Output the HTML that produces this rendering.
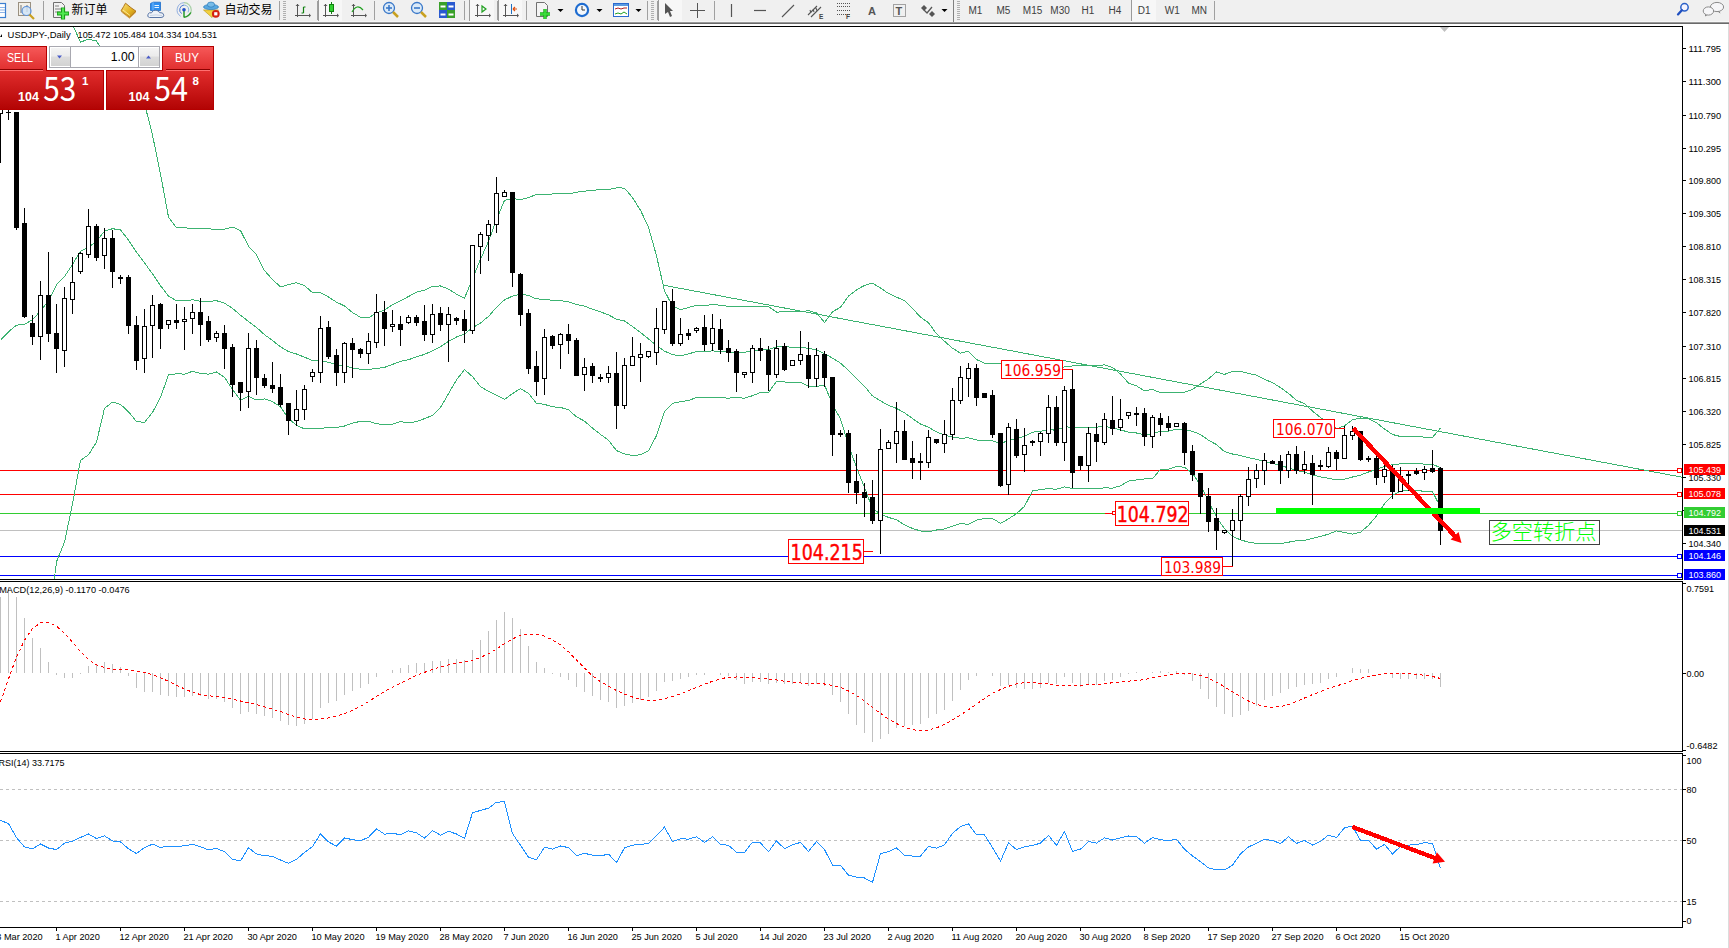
<!DOCTYPE html>
<html><head><meta charset="utf-8"><title>USDJPY-,Daily</title>
<style>
html,body{margin:0;padding:0;background:#fff;width:1729px;height:948px;overflow:hidden}
svg{display:block}
</style></head><body>
<svg width="1729" height="948" viewBox="0 0 1729 948">
<rect x="0" y="0" width="1729" height="948" fill="#ffffff"/>
<rect x="0" y="0" width="1729" height="22" fill="#f0f0f0"/>
<rect x="0" y="21" width="1729" height="1" fill="#f7f7f7"/>
<rect x="0" y="22" width="1729" height="1" fill="#9a9a9a"/>
<rect x="0" y="23" width="1729" height="1" fill="#6a6a6a"/>
<g shape-rendering="crispEdges">
<rect x="0" y="470" width="1677" height="1" fill="#ff0000"/>
<rect x="0" y="494" width="1677" height="1" fill="#ff0000"/>
<rect x="0" y="513" width="1677" height="1" fill="#32cd32"/>
<rect x="0" y="556" width="1677" height="1" fill="#0000ff"/>
<rect x="0" y="575" width="1677" height="1" fill="#0000ff"/>
<rect x="0" y="530" width="1682" height="1" fill="#c0c0c0"/>
</g>
<g clip-path="url(#cmain)">
<polyline points="0.5,673.2 8.5,678.6 16.5,674.6 24.5,673.7 32.5,666.1 40.5,650.1 48.5,624.9 56.5,561.8 64.5,542.0 72.5,504.1 80.5,460.3 88.5,454.8 96.5,442.1 104.5,408.3 112.5,402.1 120.5,404.4 128.5,411.8 136.5,421.5 144.5,422.4 152.5,412.4 160.5,397.3 168.5,375.0 176.5,373.8 184.5,374.1 192.5,371.3 200.5,373.4 208.5,374.2 216.5,371.9 224.5,377.3 232.5,389.5 240.5,400.1 248.5,396.5 256.5,400.0 264.5,398.9 272.5,401.6 280.5,406.8 288.5,418.4 296.5,425.4 304.5,428.9 312.5,428.3 320.5,428.3 328.5,427.6 336.5,427.5 344.5,426.0 352.5,423.2 360.5,421.3 368.5,421.2 376.5,423.7 384.5,424.8 392.5,424.3 400.5,421.6 408.5,422.9 416.5,421.7 424.5,418.6 432.5,415.4 440.5,407.5 448.5,393.7 456.5,379.8 464.5,369.7 472.5,376.6 480.5,386.7 488.5,391.4 496.5,395.3 504.5,399.4 512.5,393.6 520.5,388.6 528.5,393.3 536.5,403.3 544.5,404.4 552.5,406.8 560.5,407.4 568.5,409.8 576.5,416.8 584.5,421.1 592.5,428.1 600.5,434.4 608.5,440.3 616.5,450.6 624.5,453.9 632.5,455.5 640.5,454.8 648.5,450.7 656.5,435.6 664.5,411.5 672.5,403.3 680.5,401.7 688.5,400.5 696.5,397.5 704.5,397.5 712.5,397.7 720.5,397.8 728.5,398.1 736.5,397.6 744.5,398.2 752.5,395.7 760.5,392.5 768.5,392.6 776.5,381.3 784.5,382.0 792.5,382.4 800.5,382.4 808.5,386.3 816.5,386.6 824.5,384.8 832.5,404.5 840.5,418.9 848.5,444.9 856.5,467.5 864.5,487.3 872.5,508.8 880.5,513.9 888.5,517.4 896.5,519.8 904.5,524.9 912.5,528.4 920.5,531.0 928.5,531.7 936.5,530.0 944.5,529.0 952.5,526.1 960.5,523.4 968.5,524.4 976.5,520.2 984.5,518.5 992.5,518.5 1000.5,523.3 1008.5,518.9 1016.5,513.6 1024.5,506.3 1032.5,490.9 1040.5,489.6 1048.5,488.6 1056.5,489.3 1064.5,486.8 1072.5,488.7 1080.5,489.0 1088.5,488.8 1096.5,488.6 1104.5,487.9 1112.5,488.1 1120.5,485.8 1128.5,481.1 1136.5,480.0 1144.5,478.9 1152.5,478.8 1160.5,469.3 1168.5,469.3 1176.5,466.3 1184.5,467.3 1192.5,473.4 1200.5,485.0 1208.5,501.5 1216.5,517.2 1224.5,528.8 1232.5,536.4 1240.5,539.9 1248.5,542.1 1256.5,543.4 1264.5,543.4 1272.5,543.7 1280.5,543.7 1288.5,542.2 1296.5,540.7 1304.5,540.4 1312.5,538.4 1320.5,536.3 1328.5,534.2 1336.5,530.9 1344.5,532.4 1352.5,534.2 1360.5,532.2 1368.5,525.4 1376.5,516.0 1384.5,503.7 1392.5,495.2 1400.5,491.2 1408.5,490.4 1416.5,490.7 1424.5,491.2 1432.5,491.7 1440.5,507.1" fill="none" stroke="#3cb371" stroke-width="1" shape-rendering="crispEdges" />
</g>
<g clip-path="url(#cmain)">
<polyline points="0.5,340.3 8.5,331.8 16.5,325.2 24.5,324.3 32.5,319.8 40.5,310.9 48.5,300.9 56.5,284.7 64.5,276.6 72.5,264.4 80.5,251.1 88.5,247.1 96.5,241.5 104.5,231.1 112.5,228.7 120.5,229.9 128.5,240.1 136.5,252.3 144.5,262.9 152.5,273.8 160.5,285.7 168.5,296.1 176.5,300.8 184.5,301.0 192.5,299.8 200.5,301.2 208.5,301.5 216.5,300.7 224.5,303.2 232.5,308.3 240.5,315.3 248.5,321.4 256.5,327.4 264.5,334.7 272.5,340.5 280.5,346.8 288.5,351.6 296.5,354.0 304.5,357.2 312.5,360.5 320.5,360.5 328.5,362.3 336.5,364.8 344.5,366.0 352.5,367.9 360.5,369.3 368.5,369.5 376.5,368.4 384.5,367.4 392.5,364.4 400.5,361.3 408.5,359.7 416.5,356.9 424.5,354.4 432.5,350.7 440.5,346.7 448.5,341.4 456.5,337.0 464.5,334.0 472.5,327.7 480.5,323.0 488.5,316.4 496.5,307.4 504.5,299.9 512.5,296.1 520.5,294.1 528.5,295.5 536.5,298.9 544.5,299.3 552.5,300.4 560.5,300.6 568.5,301.8 576.5,304.5 584.5,306.2 592.5,309.2 600.5,311.9 608.5,314.9 616.5,319.2 624.5,321.0 632.5,326.5 640.5,332.5 648.5,338.9 656.5,345.7 664.5,351.1 672.5,354.7 680.5,355.7 688.5,354.0 696.5,351.4 704.5,351.7 712.5,350.9 720.5,351.6 728.5,352.2 736.5,352.0 744.5,352.2 752.5,350.9 760.5,349.5 768.5,349.5 776.5,346.7 784.5,346.9 792.5,347.1 800.5,347.1 808.5,348.5 816.5,349.8 824.5,353.6 832.5,358.1 840.5,363.1 848.5,370.5 856.5,378.7 864.5,386.3 872.5,395.9 880.5,400.9 888.5,405.4 896.5,408.4 904.5,412.8 912.5,418.5 920.5,424.1 928.5,427.2 936.5,431.9 944.5,435.1 952.5,437.1 960.5,438.3 968.5,437.8 976.5,439.9 984.5,440.9 992.5,440.9 1000.5,443.4 1008.5,440.6 1016.5,438.8 1024.5,436.2 1032.5,432.2 1040.5,431.4 1048.5,429.7 1056.5,430.2 1064.5,426.8 1072.5,427.3 1080.5,427.4 1088.5,427.2 1096.5,427.1 1104.5,426.4 1112.5,427.8 1120.5,429.9 1128.5,432.1 1136.5,433.0 1144.5,434.9 1152.5,434.1 1160.5,431.0 1168.5,431.0 1176.5,429.4 1184.5,429.8 1192.5,431.4 1200.5,434.5 1208.5,440.2 1216.5,444.6 1224.5,451.6 1232.5,454.0 1240.5,455.5 1248.5,457.8 1256.5,459.3 1264.5,461.4 1272.5,463.1 1280.5,465.7 1288.5,467.8 1296.5,470.6 1304.5,472.0 1312.5,474.8 1320.5,476.9 1328.5,478.2 1336.5,479.9 1344.5,479.1 1352.5,477.0 1360.5,475.1 1368.5,472.0 1376.5,469.4 1384.5,466.3 1392.5,464.8 1400.5,463.8 1408.5,463.6 1416.5,463.7 1424.5,464.1 1432.5,464.5 1440.5,467.5" fill="none" stroke="#3cb371" stroke-width="1" shape-rendering="crispEdges" />
</g>
<g clip-path="url(#cmain)">
<polyline points="0.5,7.4 8.5,-14.9 16.5,-24.2 24.5,-25.1 32.5,-26.6 40.5,-28.3 48.5,-23.0 56.5,7.6 64.5,11.2 72.5,24.8 80.5,42.0 88.5,39.3 96.5,41.0 104.5,54.0 112.5,55.2 120.5,55.4 128.5,68.4 136.5,83.2 144.5,103.4 152.5,135.2 160.5,174.0 168.5,217.1 176.5,227.9 184.5,227.9 192.5,228.3 200.5,229.0 208.5,228.7 216.5,229.6 224.5,229.2 232.5,227.1 240.5,230.5 248.5,246.2 256.5,254.8 264.5,270.6 272.5,279.5 280.5,286.9 288.5,284.7 296.5,282.7 304.5,285.5 312.5,292.7 320.5,292.7 328.5,297.0 336.5,302.1 344.5,306.0 352.5,312.5 360.5,317.3 368.5,317.7 376.5,313.1 384.5,310.0 392.5,304.6 400.5,300.9 408.5,296.5 416.5,292.2 424.5,290.2 432.5,286.1 440.5,286.0 448.5,289.1 456.5,294.1 464.5,298.3 472.5,278.7 480.5,259.3 488.5,241.3 496.5,219.6 504.5,200.4 512.5,198.5 520.5,199.6 528.5,197.7 536.5,194.4 544.5,194.3 552.5,194.0 560.5,193.9 568.5,193.9 576.5,192.2 584.5,191.2 592.5,190.4 600.5,189.5 608.5,189.6 616.5,187.8 624.5,188.1 632.5,197.6 640.5,210.3 648.5,227.2 656.5,255.8 664.5,290.8 672.5,306.1 680.5,309.6 688.5,307.5 696.5,305.3 704.5,306.0 712.5,304.1 720.5,305.4 728.5,306.3 736.5,306.4 744.5,306.3 752.5,306.2 760.5,306.5 768.5,306.5 776.5,312.1 784.5,311.8 792.5,311.8 800.5,311.8 808.5,310.6 816.5,313.0 824.5,322.4 832.5,311.7 840.5,307.4 848.5,296.1 856.5,289.9 864.5,285.4 872.5,283.1 880.5,288.0 888.5,293.5 896.5,297.1 904.5,300.7 912.5,308.5 920.5,317.1 928.5,322.7 936.5,333.8 944.5,341.3 952.5,348.2 960.5,353.2 968.5,351.2 976.5,359.6 984.5,363.2 992.5,363.2 1000.5,363.4 1008.5,362.4 1016.5,363.9 1024.5,366.1 1032.5,373.5 1040.5,373.3 1048.5,370.8 1056.5,371.1 1064.5,366.8 1072.5,365.9 1080.5,365.8 1088.5,365.7 1096.5,365.7 1104.5,364.9 1112.5,367.5 1120.5,374.0 1128.5,383.1 1136.5,385.9 1144.5,390.9 1152.5,389.4 1160.5,392.7 1168.5,392.7 1176.5,392.6 1184.5,392.2 1192.5,389.4 1200.5,384.0 1208.5,378.9 1216.5,371.9 1224.5,374.4 1232.5,371.5 1240.5,371.2 1248.5,373.5 1256.5,375.2 1264.5,379.4 1272.5,382.6 1280.5,387.6 1288.5,393.4 1296.5,400.4 1304.5,403.6 1312.5,411.1 1320.5,417.5 1328.5,422.2 1336.5,428.9 1344.5,425.8 1352.5,419.7 1360.5,418.0 1368.5,418.6 1376.5,422.8 1384.5,429.0 1392.5,434.5 1400.5,436.5 1408.5,436.7 1416.5,436.7 1424.5,437.1 1432.5,437.3 1440.5,428.0" fill="none" stroke="#3cb371" stroke-width="1" shape-rendering="crispEdges" />
</g>
<line x1="663.5" y1="285.2" x2="1682" y2="477.2" stroke="#3cb371" stroke-width="1" shape-rendering="crispEdges"/>
<g shape-rendering="crispEdges" clip-path="url(#cmain)">
<rect x="0" y="90" width="1" height="73" fill="#000"/>
<rect x="-2" y="90" width="5" height="24" fill="#000"/>
<rect x="-1" y="91" width="3" height="22" fill="#fff"/>
<rect x="8" y="100" width="1" height="20" fill="#000"/>
<rect x="6" y="112" width="5" height="1" fill="#000"/>
<rect x="16" y="112" width="1" height="118" fill="#000"/>
<rect x="14" y="112" width="5" height="116" fill="#000"/>
<rect x="24" y="208" width="1" height="110" fill="#000"/>
<rect x="22" y="223" width="5" height="94" fill="#000"/>
<rect x="32" y="315" width="1" height="30" fill="#000"/>
<rect x="30" y="323" width="5" height="14" fill="#000"/>
<rect x="40" y="281" width="1" height="79" fill="#000"/>
<rect x="38" y="295" width="5" height="42" fill="#000"/>
<rect x="39" y="296" width="3" height="40" fill="#fff"/>
<rect x="48" y="252" width="1" height="90" fill="#000"/>
<rect x="46" y="295" width="5" height="39" fill="#000"/>
<rect x="56" y="304" width="1" height="69" fill="#000"/>
<rect x="54" y="333" width="5" height="16" fill="#000"/>
<rect x="64" y="287" width="1" height="80" fill="#000"/>
<rect x="62" y="298" width="5" height="53" fill="#000"/>
<rect x="63" y="299" width="3" height="51" fill="#fff"/>
<rect x="72" y="257" width="1" height="57" fill="#000"/>
<rect x="70" y="282" width="5" height="18" fill="#000"/>
<rect x="71" y="283" width="3" height="16" fill="#fff"/>
<rect x="80" y="252" width="1" height="22" fill="#000"/>
<rect x="78" y="253" width="5" height="19" fill="#000"/>
<rect x="79" y="254" width="3" height="17" fill="#fff"/>
<rect x="88" y="209" width="1" height="49" fill="#000"/>
<rect x="86" y="226" width="5" height="29" fill="#000"/>
<rect x="87" y="227" width="3" height="27" fill="#fff"/>
<rect x="96" y="224" width="1" height="37" fill="#000"/>
<rect x="94" y="226" width="5" height="32" fill="#000"/>
<rect x="104" y="228" width="1" height="41" fill="#000"/>
<rect x="102" y="238" width="5" height="18" fill="#000"/>
<rect x="103" y="239" width="3" height="16" fill="#fff"/>
<rect x="112" y="230" width="1" height="58" fill="#000"/>
<rect x="110" y="238" width="5" height="34" fill="#000"/>
<rect x="120" y="275" width="1" height="9" fill="#000"/>
<rect x="118" y="277" width="5" height="2" fill="#000"/>
<rect x="128" y="275" width="1" height="59" fill="#000"/>
<rect x="126" y="277" width="5" height="49" fill="#000"/>
<rect x="136" y="316" width="1" height="54" fill="#000"/>
<rect x="134" y="325" width="5" height="36" fill="#000"/>
<rect x="144" y="309" width="1" height="64" fill="#000"/>
<rect x="142" y="326" width="5" height="33" fill="#000"/>
<rect x="143" y="327" width="3" height="31" fill="#fff"/>
<rect x="152" y="295" width="1" height="63" fill="#000"/>
<rect x="150" y="305" width="5" height="21" fill="#000"/>
<rect x="151" y="306" width="3" height="19" fill="#fff"/>
<rect x="160" y="303" width="1" height="46" fill="#000"/>
<rect x="158" y="304" width="5" height="25" fill="#000"/>
<rect x="168" y="320" width="1" height="9" fill="#000"/>
<rect x="166" y="320" width="5" height="5" fill="#000"/>
<rect x="167" y="321" width="3" height="3" fill="#fff"/>
<rect x="176" y="304" width="1" height="25" fill="#000"/>
<rect x="174" y="320" width="5" height="3" fill="#000"/>
<rect x="184" y="307" width="1" height="43" fill="#000"/>
<rect x="182" y="319" width="5" height="3" fill="#000"/>
<rect x="183" y="320" width="3" height="1" fill="#fff"/>
<rect x="192" y="304" width="1" height="30" fill="#000"/>
<rect x="190" y="312" width="5" height="7" fill="#000"/>
<rect x="191" y="313" width="3" height="5" fill="#fff"/>
<rect x="200" y="298" width="1" height="48" fill="#000"/>
<rect x="198" y="312" width="5" height="13" fill="#000"/>
<rect x="208" y="316" width="1" height="26" fill="#000"/>
<rect x="206" y="321" width="5" height="19" fill="#000"/>
<rect x="216" y="331" width="1" height="11" fill="#000"/>
<rect x="214" y="333" width="5" height="5" fill="#000"/>
<rect x="215" y="334" width="3" height="3" fill="#fff"/>
<rect x="224" y="325" width="1" height="44" fill="#000"/>
<rect x="222" y="333" width="5" height="16" fill="#000"/>
<rect x="232" y="344" width="1" height="53" fill="#000"/>
<rect x="230" y="347" width="5" height="38" fill="#000"/>
<rect x="240" y="382" width="1" height="29" fill="#000"/>
<rect x="238" y="382" width="5" height="11" fill="#000"/>
<rect x="248" y="333" width="1" height="75" fill="#000"/>
<rect x="246" y="348" width="5" height="44" fill="#000"/>
<rect x="247" y="349" width="3" height="42" fill="#fff"/>
<rect x="256" y="340" width="1" height="55" fill="#000"/>
<rect x="254" y="348" width="5" height="30" fill="#000"/>
<rect x="264" y="374" width="1" height="14" fill="#000"/>
<rect x="262" y="378" width="5" height="8" fill="#000"/>
<rect x="272" y="362" width="1" height="31" fill="#000"/>
<rect x="270" y="385" width="5" height="4" fill="#000"/>
<rect x="280" y="374" width="1" height="33" fill="#000"/>
<rect x="278" y="387" width="5" height="18" fill="#000"/>
<rect x="288" y="403" width="1" height="32" fill="#000"/>
<rect x="286" y="403" width="5" height="18" fill="#000"/>
<rect x="296" y="390" width="1" height="36" fill="#000"/>
<rect x="294" y="409" width="5" height="12" fill="#000"/>
<rect x="295" y="410" width="3" height="10" fill="#fff"/>
<rect x="304" y="385" width="1" height="35" fill="#000"/>
<rect x="302" y="389" width="5" height="21" fill="#000"/>
<rect x="303" y="390" width="3" height="19" fill="#fff"/>
<rect x="312" y="369" width="1" height="13" fill="#000"/>
<rect x="310" y="372" width="5" height="5" fill="#000"/>
<rect x="311" y="373" width="3" height="3" fill="#fff"/>
<rect x="320" y="316" width="1" height="67" fill="#000"/>
<rect x="318" y="328" width="5" height="45" fill="#000"/>
<rect x="319" y="329" width="3" height="43" fill="#fff"/>
<rect x="328" y="321" width="1" height="38" fill="#000"/>
<rect x="326" y="327" width="5" height="30" fill="#000"/>
<rect x="336" y="349" width="1" height="37" fill="#000"/>
<rect x="334" y="355" width="5" height="18" fill="#000"/>
<rect x="344" y="342" width="1" height="41" fill="#000"/>
<rect x="342" y="343" width="5" height="30" fill="#000"/>
<rect x="343" y="344" width="3" height="28" fill="#fff"/>
<rect x="352" y="338" width="1" height="40" fill="#000"/>
<rect x="350" y="343" width="5" height="7" fill="#000"/>
<rect x="360" y="348" width="1" height="10" fill="#000"/>
<rect x="358" y="349" width="5" height="5" fill="#000"/>
<rect x="368" y="333" width="1" height="31" fill="#000"/>
<rect x="366" y="341" width="5" height="13" fill="#000"/>
<rect x="367" y="342" width="3" height="11" fill="#fff"/>
<rect x="376" y="294" width="1" height="54" fill="#000"/>
<rect x="374" y="312" width="5" height="31" fill="#000"/>
<rect x="375" y="313" width="3" height="29" fill="#fff"/>
<rect x="384" y="301" width="1" height="45" fill="#000"/>
<rect x="382" y="312" width="5" height="17" fill="#000"/>
<rect x="392" y="310" width="1" height="22" fill="#000"/>
<rect x="390" y="324" width="5" height="3" fill="#000"/>
<rect x="391" y="325" width="3" height="1" fill="#fff"/>
<rect x="400" y="316" width="1" height="30" fill="#000"/>
<rect x="398" y="324" width="5" height="6" fill="#000"/>
<rect x="408" y="315" width="1" height="9" fill="#000"/>
<rect x="406" y="317" width="5" height="6" fill="#000"/>
<rect x="407" y="318" width="3" height="4" fill="#fff"/>
<rect x="416" y="315" width="1" height="11" fill="#000"/>
<rect x="414" y="317" width="5" height="6" fill="#000"/>
<rect x="424" y="305" width="1" height="36" fill="#000"/>
<rect x="422" y="321" width="5" height="14" fill="#000"/>
<rect x="432" y="304" width="1" height="39" fill="#000"/>
<rect x="430" y="314" width="5" height="21" fill="#000"/>
<rect x="431" y="315" width="3" height="19" fill="#fff"/>
<rect x="440" y="307" width="1" height="24" fill="#000"/>
<rect x="438" y="313" width="5" height="12" fill="#000"/>
<rect x="448" y="307" width="1" height="55" fill="#000"/>
<rect x="446" y="314" width="5" height="11" fill="#000"/>
<rect x="447" y="315" width="3" height="9" fill="#fff"/>
<rect x="456" y="317" width="1" height="8" fill="#000"/>
<rect x="454" y="318" width="5" height="3" fill="#000"/>
<rect x="464" y="310" width="1" height="33" fill="#000"/>
<rect x="462" y="319" width="5" height="12" fill="#000"/>
<rect x="472" y="245" width="1" height="89" fill="#000"/>
<rect x="470" y="245" width="5" height="86" fill="#000"/>
<rect x="471" y="246" width="3" height="84" fill="#fff"/>
<rect x="480" y="232" width="1" height="42" fill="#000"/>
<rect x="478" y="234" width="5" height="13" fill="#000"/>
<rect x="479" y="235" width="3" height="11" fill="#fff"/>
<rect x="488" y="220" width="1" height="41" fill="#000"/>
<rect x="486" y="224" width="5" height="12" fill="#000"/>
<rect x="487" y="225" width="3" height="10" fill="#fff"/>
<rect x="496" y="177" width="1" height="56" fill="#000"/>
<rect x="494" y="193" width="5" height="32" fill="#000"/>
<rect x="495" y="194" width="3" height="30" fill="#fff"/>
<rect x="504" y="190" width="1" height="7" fill="#000"/>
<rect x="502" y="192" width="5" height="5" fill="#000"/>
<rect x="503" y="193" width="3" height="3" fill="#fff"/>
<rect x="512" y="192" width="1" height="95" fill="#000"/>
<rect x="510" y="192" width="5" height="81" fill="#000"/>
<rect x="520" y="273" width="1" height="53" fill="#000"/>
<rect x="518" y="274" width="5" height="41" fill="#000"/>
<rect x="528" y="309" width="1" height="65" fill="#000"/>
<rect x="526" y="313" width="5" height="56" fill="#000"/>
<rect x="536" y="351" width="1" height="45" fill="#000"/>
<rect x="534" y="366" width="5" height="16" fill="#000"/>
<rect x="544" y="329" width="1" height="66" fill="#000"/>
<rect x="542" y="337" width="5" height="42" fill="#000"/>
<rect x="543" y="338" width="3" height="40" fill="#fff"/>
<rect x="552" y="335" width="1" height="14" fill="#000"/>
<rect x="550" y="336" width="5" height="10" fill="#000"/>
<rect x="560" y="333" width="1" height="36" fill="#000"/>
<rect x="558" y="334" width="5" height="11" fill="#000"/>
<rect x="559" y="335" width="3" height="9" fill="#fff"/>
<rect x="568" y="324" width="1" height="30" fill="#000"/>
<rect x="566" y="334" width="5" height="7" fill="#000"/>
<rect x="576" y="338" width="1" height="38" fill="#000"/>
<rect x="574" y="340" width="5" height="36" fill="#000"/>
<rect x="584" y="358" width="1" height="33" fill="#000"/>
<rect x="582" y="367" width="5" height="8" fill="#000"/>
<rect x="583" y="368" width="3" height="6" fill="#fff"/>
<rect x="592" y="363" width="1" height="20" fill="#000"/>
<rect x="590" y="366" width="5" height="10" fill="#000"/>
<rect x="600" y="374" width="1" height="8" fill="#000"/>
<rect x="598" y="377" width="5" height="2" fill="#000"/>
<rect x="608" y="366" width="1" height="17" fill="#000"/>
<rect x="606" y="373" width="5" height="5" fill="#000"/>
<rect x="607" y="374" width="3" height="3" fill="#fff"/>
<rect x="616" y="352" width="1" height="77" fill="#000"/>
<rect x="614" y="373" width="5" height="33" fill="#000"/>
<rect x="624" y="358" width="1" height="51" fill="#000"/>
<rect x="622" y="365" width="5" height="41" fill="#000"/>
<rect x="623" y="366" width="3" height="39" fill="#fff"/>
<rect x="632" y="337" width="1" height="29" fill="#000"/>
<rect x="630" y="356" width="5" height="10" fill="#000"/>
<rect x="631" y="357" width="3" height="8" fill="#fff"/>
<rect x="640" y="343" width="1" height="39" fill="#000"/>
<rect x="638" y="354" width="5" height="4" fill="#000"/>
<rect x="639" y="355" width="3" height="2" fill="#fff"/>
<rect x="648" y="351" width="1" height="7" fill="#000"/>
<rect x="646" y="351" width="5" height="6" fill="#000"/>
<rect x="647" y="352" width="3" height="4" fill="#fff"/>
<rect x="656" y="308" width="1" height="57" fill="#000"/>
<rect x="654" y="328" width="5" height="25" fill="#000"/>
<rect x="655" y="329" width="3" height="23" fill="#fff"/>
<rect x="664" y="301" width="1" height="33" fill="#000"/>
<rect x="662" y="301" width="5" height="29" fill="#000"/>
<rect x="663" y="302" width="3" height="27" fill="#fff"/>
<rect x="672" y="289" width="1" height="57" fill="#000"/>
<rect x="670" y="301" width="5" height="43" fill="#000"/>
<rect x="680" y="318" width="1" height="28" fill="#000"/>
<rect x="678" y="334" width="5" height="10" fill="#000"/>
<rect x="679" y="335" width="3" height="8" fill="#fff"/>
<rect x="688" y="329" width="1" height="11" fill="#000"/>
<rect x="686" y="333" width="5" height="3" fill="#000"/>
<rect x="696" y="327" width="1" height="6" fill="#000"/>
<rect x="694" y="328" width="5" height="3" fill="#000"/>
<rect x="695" y="329" width="3" height="1" fill="#fff"/>
<rect x="704" y="315" width="1" height="36" fill="#000"/>
<rect x="702" y="327" width="5" height="18" fill="#000"/>
<rect x="712" y="314" width="1" height="37" fill="#000"/>
<rect x="710" y="328" width="5" height="16" fill="#000"/>
<rect x="711" y="329" width="3" height="14" fill="#fff"/>
<rect x="720" y="319" width="1" height="35" fill="#000"/>
<rect x="718" y="329" width="5" height="21" fill="#000"/>
<rect x="728" y="340" width="1" height="22" fill="#000"/>
<rect x="726" y="348" width="5" height="5" fill="#000"/>
<rect x="736" y="349" width="1" height="43" fill="#000"/>
<rect x="734" y="351" width="5" height="22" fill="#000"/>
<rect x="744" y="372" width="1" height="6" fill="#000"/>
<rect x="742" y="372" width="5" height="3" fill="#000"/>
<rect x="743" y="373" width="3" height="1" fill="#fff"/>
<rect x="752" y="345" width="1" height="38" fill="#000"/>
<rect x="750" y="348" width="5" height="25" fill="#000"/>
<rect x="751" y="349" width="3" height="23" fill="#fff"/>
<rect x="760" y="338" width="1" height="23" fill="#000"/>
<rect x="758" y="348" width="5" height="3" fill="#000"/>
<rect x="768" y="346" width="1" height="45" fill="#000"/>
<rect x="766" y="350" width="5" height="25" fill="#000"/>
<rect x="776" y="340" width="1" height="38" fill="#000"/>
<rect x="774" y="348" width="5" height="27" fill="#000"/>
<rect x="775" y="349" width="3" height="25" fill="#fff"/>
<rect x="784" y="343" width="1" height="28" fill="#000"/>
<rect x="782" y="346" width="5" height="24" fill="#000"/>
<rect x="792" y="360" width="1" height="6" fill="#000"/>
<rect x="790" y="360" width="5" height="6" fill="#000"/>
<rect x="791" y="361" width="3" height="4" fill="#fff"/>
<rect x="800" y="331" width="1" height="34" fill="#000"/>
<rect x="798" y="354" width="5" height="7" fill="#000"/>
<rect x="799" y="355" width="3" height="5" fill="#fff"/>
<rect x="808" y="342" width="1" height="46" fill="#000"/>
<rect x="806" y="355" width="5" height="24" fill="#000"/>
<rect x="816" y="348" width="1" height="39" fill="#000"/>
<rect x="814" y="355" width="5" height="24" fill="#000"/>
<rect x="815" y="356" width="3" height="22" fill="#fff"/>
<rect x="824" y="351" width="1" height="36" fill="#000"/>
<rect x="822" y="354" width="5" height="24" fill="#000"/>
<rect x="832" y="377" width="1" height="79" fill="#000"/>
<rect x="830" y="377" width="5" height="58" fill="#000"/>
<rect x="840" y="430" width="1" height="7" fill="#000"/>
<rect x="838" y="433" width="5" height="2" fill="#000"/>
<rect x="848" y="430" width="1" height="63" fill="#000"/>
<rect x="846" y="433" width="5" height="50" fill="#000"/>
<rect x="856" y="454" width="1" height="50" fill="#000"/>
<rect x="854" y="481" width="5" height="12" fill="#000"/>
<rect x="864" y="483" width="1" height="34" fill="#000"/>
<rect x="862" y="492" width="5" height="6" fill="#000"/>
<rect x="872" y="480" width="1" height="44" fill="#000"/>
<rect x="870" y="497" width="5" height="24" fill="#000"/>
<rect x="880" y="429" width="1" height="125" fill="#000"/>
<rect x="878" y="449" width="5" height="72" fill="#000"/>
<rect x="879" y="450" width="3" height="70" fill="#fff"/>
<rect x="888" y="440" width="1" height="9" fill="#000"/>
<rect x="886" y="442" width="5" height="7" fill="#000"/>
<rect x="887" y="443" width="3" height="5" fill="#fff"/>
<rect x="896" y="402" width="1" height="61" fill="#000"/>
<rect x="894" y="431" width="5" height="13" fill="#000"/>
<rect x="895" y="432" width="3" height="11" fill="#fff"/>
<rect x="904" y="420" width="1" height="40" fill="#000"/>
<rect x="902" y="431" width="5" height="29" fill="#000"/>
<rect x="912" y="441" width="1" height="38" fill="#000"/>
<rect x="910" y="458" width="5" height="5" fill="#000"/>
<rect x="920" y="453" width="1" height="27" fill="#000"/>
<rect x="918" y="461" width="5" height="2" fill="#000"/>
<rect x="928" y="430" width="1" height="38" fill="#000"/>
<rect x="926" y="437" width="5" height="26" fill="#000"/>
<rect x="927" y="438" width="3" height="24" fill="#fff"/>
<rect x="936" y="439" width="1" height="5" fill="#000"/>
<rect x="934" y="439" width="5" height="4" fill="#000"/>
<rect x="944" y="420" width="1" height="33" fill="#000"/>
<rect x="942" y="434" width="5" height="10" fill="#000"/>
<rect x="943" y="435" width="3" height="8" fill="#fff"/>
<rect x="952" y="388" width="1" height="52" fill="#000"/>
<rect x="950" y="400" width="5" height="35" fill="#000"/>
<rect x="951" y="401" width="3" height="33" fill="#fff"/>
<rect x="960" y="366" width="1" height="38" fill="#000"/>
<rect x="958" y="377" width="5" height="24" fill="#000"/>
<rect x="959" y="378" width="3" height="22" fill="#fff"/>
<rect x="968" y="363" width="1" height="34" fill="#000"/>
<rect x="966" y="368" width="5" height="11" fill="#000"/>
<rect x="967" y="369" width="3" height="9" fill="#fff"/>
<rect x="976" y="364" width="1" height="42" fill="#000"/>
<rect x="974" y="368" width="5" height="30" fill="#000"/>
<rect x="984" y="393" width="1" height="5" fill="#000"/>
<rect x="982" y="393" width="5" height="5" fill="#000"/>
<rect x="992" y="390" width="1" height="48" fill="#000"/>
<rect x="990" y="395" width="5" height="40" fill="#000"/>
<rect x="1000" y="433" width="1" height="54" fill="#000"/>
<rect x="998" y="433" width="5" height="53" fill="#000"/>
<rect x="1008" y="423" width="1" height="72" fill="#000"/>
<rect x="1006" y="427" width="5" height="58" fill="#000"/>
<rect x="1007" y="428" width="3" height="56" fill="#fff"/>
<rect x="1016" y="419" width="1" height="39" fill="#000"/>
<rect x="1014" y="429" width="5" height="27" fill="#000"/>
<rect x="1024" y="428" width="1" height="44" fill="#000"/>
<rect x="1022" y="445" width="5" height="10" fill="#000"/>
<rect x="1023" y="446" width="3" height="8" fill="#fff"/>
<rect x="1032" y="440" width="1" height="6" fill="#000"/>
<rect x="1030" y="441" width="5" height="2" fill="#000"/>
<rect x="1040" y="432" width="1" height="24" fill="#000"/>
<rect x="1038" y="433" width="5" height="9" fill="#000"/>
<rect x="1039" y="434" width="3" height="7" fill="#fff"/>
<rect x="1048" y="395" width="1" height="48" fill="#000"/>
<rect x="1046" y="407" width="5" height="27" fill="#000"/>
<rect x="1047" y="408" width="3" height="25" fill="#fff"/>
<rect x="1056" y="396" width="1" height="50" fill="#000"/>
<rect x="1054" y="407" width="5" height="36" fill="#000"/>
<rect x="1064" y="386" width="1" height="75" fill="#000"/>
<rect x="1062" y="390" width="5" height="53" fill="#000"/>
<rect x="1063" y="391" width="3" height="51" fill="#fff"/>
<rect x="1072" y="369" width="1" height="119" fill="#000"/>
<rect x="1070" y="389" width="5" height="84" fill="#000"/>
<rect x="1080" y="456" width="1" height="14" fill="#000"/>
<rect x="1078" y="456" width="5" height="10" fill="#000"/>
<rect x="1088" y="427" width="1" height="55" fill="#000"/>
<rect x="1086" y="433" width="5" height="33" fill="#000"/>
<rect x="1087" y="434" width="3" height="31" fill="#fff"/>
<rect x="1096" y="423" width="1" height="39" fill="#000"/>
<rect x="1094" y="434" width="5" height="8" fill="#000"/>
<rect x="1104" y="413" width="1" height="32" fill="#000"/>
<rect x="1102" y="419" width="5" height="24" fill="#000"/>
<rect x="1103" y="420" width="3" height="22" fill="#fff"/>
<rect x="1112" y="396" width="1" height="39" fill="#000"/>
<rect x="1110" y="420" width="5" height="9" fill="#000"/>
<rect x="1120" y="399" width="1" height="32" fill="#000"/>
<rect x="1118" y="419" width="5" height="9" fill="#000"/>
<rect x="1119" y="420" width="3" height="7" fill="#fff"/>
<rect x="1128" y="412" width="1" height="7" fill="#000"/>
<rect x="1126" y="412" width="5" height="4" fill="#000"/>
<rect x="1127" y="413" width="3" height="2" fill="#fff"/>
<rect x="1136" y="407" width="1" height="19" fill="#000"/>
<rect x="1134" y="413" width="5" height="2" fill="#000"/>
<rect x="1144" y="408" width="1" height="38" fill="#000"/>
<rect x="1142" y="413" width="5" height="24" fill="#000"/>
<rect x="1152" y="415" width="1" height="33" fill="#000"/>
<rect x="1150" y="417" width="5" height="20" fill="#000"/>
<rect x="1151" y="418" width="3" height="18" fill="#fff"/>
<rect x="1160" y="413" width="1" height="23" fill="#000"/>
<rect x="1158" y="418" width="5" height="7" fill="#000"/>
<rect x="1168" y="416" width="1" height="15" fill="#000"/>
<rect x="1166" y="423" width="5" height="5" fill="#000"/>
<rect x="1176" y="423" width="1" height="4" fill="#000"/>
<rect x="1174" y="423" width="5" height="4" fill="#000"/>
<rect x="1175" y="424" width="3" height="2" fill="#fff"/>
<rect x="1184" y="422" width="1" height="43" fill="#000"/>
<rect x="1182" y="423" width="5" height="30" fill="#000"/>
<rect x="1192" y="445" width="1" height="36" fill="#000"/>
<rect x="1190" y="451" width="5" height="24" fill="#000"/>
<rect x="1200" y="473" width="1" height="41" fill="#000"/>
<rect x="1198" y="473" width="5" height="24" fill="#000"/>
<rect x="1208" y="488" width="1" height="44" fill="#000"/>
<rect x="1206" y="496" width="5" height="26" fill="#000"/>
<rect x="1216" y="508" width="1" height="42" fill="#000"/>
<rect x="1214" y="518" width="5" height="13" fill="#000"/>
<rect x="1224" y="530" width="1" height="4" fill="#000"/>
<rect x="1222" y="530" width="5" height="3" fill="#000"/>
<rect x="1223" y="531" width="3" height="1" fill="#fff"/>
<rect x="1232" y="509" width="1" height="58" fill="#000"/>
<rect x="1230" y="520" width="5" height="11" fill="#000"/>
<rect x="1231" y="521" width="3" height="9" fill="#fff"/>
<rect x="1240" y="494" width="1" height="46" fill="#000"/>
<rect x="1238" y="496" width="5" height="25" fill="#000"/>
<rect x="1239" y="497" width="3" height="23" fill="#fff"/>
<rect x="1248" y="467" width="1" height="39" fill="#000"/>
<rect x="1246" y="479" width="5" height="18" fill="#000"/>
<rect x="1247" y="480" width="3" height="16" fill="#fff"/>
<rect x="1256" y="464" width="1" height="24" fill="#000"/>
<rect x="1254" y="470" width="5" height="9" fill="#000"/>
<rect x="1255" y="471" width="3" height="7" fill="#fff"/>
<rect x="1264" y="453" width="1" height="32" fill="#000"/>
<rect x="1262" y="460" width="5" height="11" fill="#000"/>
<rect x="1263" y="461" width="3" height="9" fill="#fff"/>
<rect x="1272" y="460" width="1" height="4" fill="#000"/>
<rect x="1270" y="461" width="5" height="3" fill="#000"/>
<rect x="1280" y="455" width="1" height="29" fill="#000"/>
<rect x="1278" y="461" width="5" height="10" fill="#000"/>
<rect x="1288" y="451" width="1" height="27" fill="#000"/>
<rect x="1286" y="454" width="5" height="17" fill="#000"/>
<rect x="1287" y="455" width="3" height="15" fill="#fff"/>
<rect x="1296" y="446" width="1" height="28" fill="#000"/>
<rect x="1294" y="454" width="5" height="17" fill="#000"/>
<rect x="1304" y="451" width="1" height="23" fill="#000"/>
<rect x="1302" y="464" width="5" height="6" fill="#000"/>
<rect x="1303" y="465" width="3" height="4" fill="#fff"/>
<rect x="1312" y="455" width="1" height="50" fill="#000"/>
<rect x="1310" y="463" width="5" height="12" fill="#000"/>
<rect x="1320" y="460" width="1" height="10" fill="#000"/>
<rect x="1318" y="465" width="5" height="2" fill="#000"/>
<rect x="1328" y="447" width="1" height="21" fill="#000"/>
<rect x="1326" y="452" width="5" height="15" fill="#000"/>
<rect x="1327" y="453" width="3" height="13" fill="#fff"/>
<rect x="1336" y="450" width="1" height="20" fill="#000"/>
<rect x="1334" y="452" width="5" height="7" fill="#000"/>
<rect x="1344" y="426" width="1" height="33" fill="#000"/>
<rect x="1342" y="435" width="5" height="24" fill="#000"/>
<rect x="1343" y="436" width="3" height="22" fill="#fff"/>
<rect x="1352" y="426" width="1" height="14" fill="#000"/>
<rect x="1350" y="431" width="5" height="5" fill="#000"/>
<rect x="1351" y="432" width="3" height="3" fill="#fff"/>
<rect x="1360" y="431" width="1" height="30" fill="#000"/>
<rect x="1358" y="431" width="5" height="29" fill="#000"/>
<rect x="1368" y="456" width="1" height="6" fill="#000"/>
<rect x="1366" y="458" width="5" height="2" fill="#000"/>
<rect x="1376" y="455" width="1" height="30" fill="#000"/>
<rect x="1374" y="458" width="5" height="20" fill="#000"/>
<rect x="1384" y="458" width="1" height="25" fill="#000"/>
<rect x="1382" y="469" width="5" height="8" fill="#000"/>
<rect x="1383" y="470" width="3" height="6" fill="#fff"/>
<rect x="1392" y="465" width="1" height="34" fill="#000"/>
<rect x="1390" y="468" width="5" height="24" fill="#000"/>
<rect x="1400" y="467" width="1" height="25" fill="#000"/>
<rect x="1398" y="476" width="5" height="16" fill="#000"/>
<rect x="1399" y="477" width="3" height="14" fill="#fff"/>
<rect x="1408" y="471" width="1" height="20" fill="#000"/>
<rect x="1406" y="474" width="5" height="2" fill="#000"/>
<rect x="1416" y="468" width="1" height="7" fill="#000"/>
<rect x="1414" y="471" width="5" height="3" fill="#000"/>
<rect x="1424" y="466" width="1" height="14" fill="#000"/>
<rect x="1422" y="469" width="5" height="4" fill="#000"/>
<rect x="1423" y="470" width="3" height="2" fill="#fff"/>
<rect x="1432" y="450" width="1" height="23" fill="#000"/>
<rect x="1430" y="468" width="5" height="4" fill="#000"/>
<rect x="1440" y="467" width="1" height="78" fill="#000"/>
<rect x="1438" y="468" width="5" height="63" fill="#000"/>
</g>
<defs><clipPath id="cmain"><rect x="0" y="27" width="1682" height="552"/></clipPath><clipPath id="cmacd"><rect x="0" y="582" width="1682" height="169"/></clipPath><clipPath id="crsi"><rect x="0" y="754" width="1682" height="173"/></clipPath></defs>
<g shape-rendering="crispEdges">
<rect x="0" y="597" width="1" height="76" fill="#c0c0c0"/>
<rect x="8" y="587" width="1" height="86" fill="#c0c0c0"/>
<rect x="16" y="597" width="1" height="76" fill="#c0c0c0"/>
<rect x="24" y="618" width="1" height="55" fill="#c0c0c0"/>
<rect x="32" y="638" width="1" height="35" fill="#c0c0c0"/>
<rect x="40" y="648" width="1" height="25" fill="#c0c0c0"/>
<rect x="48" y="662" width="1" height="11" fill="#c0c0c0"/>
<rect x="56" y="673" width="1" height="2" fill="#c0c0c0"/>
<rect x="64" y="673" width="1" height="5" fill="#c0c0c0"/>
<rect x="72" y="673" width="1" height="5" fill="#c0c0c0"/>
<rect x="80" y="673" width="1" height="1" fill="#c0c0c0"/>
<rect x="88" y="666" width="1" height="7" fill="#c0c0c0"/>
<rect x="96" y="665" width="1" height="8" fill="#c0c0c0"/>
<rect x="104" y="662" width="1" height="11" fill="#c0c0c0"/>
<rect x="112" y="664" width="1" height="9" fill="#c0c0c0"/>
<rect x="120" y="667" width="1" height="6" fill="#c0c0c0"/>
<rect x="128" y="673" width="1" height="3" fill="#c0c0c0"/>
<rect x="136" y="673" width="1" height="15" fill="#c0c0c0"/>
<rect x="144" y="673" width="1" height="19" fill="#c0c0c0"/>
<rect x="152" y="673" width="1" height="19" fill="#c0c0c0"/>
<rect x="160" y="673" width="1" height="22" fill="#c0c0c0"/>
<rect x="168" y="673" width="1" height="23" fill="#c0c0c0"/>
<rect x="176" y="673" width="1" height="24" fill="#c0c0c0"/>
<rect x="184" y="673" width="1" height="24" fill="#c0c0c0"/>
<rect x="192" y="673" width="1" height="23" fill="#c0c0c0"/>
<rect x="200" y="673" width="1" height="23" fill="#c0c0c0"/>
<rect x="208" y="673" width="1" height="26" fill="#c0c0c0"/>
<rect x="216" y="673" width="1" height="26" fill="#c0c0c0"/>
<rect x="224" y="673" width="1" height="29" fill="#c0c0c0"/>
<rect x="232" y="673" width="1" height="35" fill="#c0c0c0"/>
<rect x="240" y="673" width="1" height="41" fill="#c0c0c0"/>
<rect x="248" y="673" width="1" height="39" fill="#c0c0c0"/>
<rect x="256" y="673" width="1" height="41" fill="#c0c0c0"/>
<rect x="264" y="673" width="1" height="43" fill="#c0c0c0"/>
<rect x="272" y="673" width="1" height="45" fill="#c0c0c0"/>
<rect x="280" y="673" width="1" height="48" fill="#c0c0c0"/>
<rect x="288" y="673" width="1" height="52" fill="#c0c0c0"/>
<rect x="296" y="673" width="1" height="53" fill="#c0c0c0"/>
<rect x="304" y="673" width="1" height="51" fill="#c0c0c0"/>
<rect x="312" y="673" width="1" height="46" fill="#c0c0c0"/>
<rect x="320" y="673" width="1" height="35" fill="#c0c0c0"/>
<rect x="328" y="673" width="1" height="30" fill="#c0c0c0"/>
<rect x="336" y="673" width="1" height="28" fill="#c0c0c0"/>
<rect x="344" y="673" width="1" height="22" fill="#c0c0c0"/>
<rect x="352" y="673" width="1" height="18" fill="#c0c0c0"/>
<rect x="360" y="673" width="1" height="15" fill="#c0c0c0"/>
<rect x="368" y="673" width="1" height="11" fill="#c0c0c0"/>
<rect x="376" y="673" width="1" height="4" fill="#c0c0c0"/>
<rect x="392" y="670" width="1" height="3" fill="#c0c0c0"/>
<rect x="400" y="668" width="1" height="5" fill="#c0c0c0"/>
<rect x="408" y="665" width="1" height="8" fill="#c0c0c0"/>
<rect x="416" y="663" width="1" height="10" fill="#c0c0c0"/>
<rect x="424" y="663" width="1" height="10" fill="#c0c0c0"/>
<rect x="432" y="661" width="1" height="12" fill="#c0c0c0"/>
<rect x="440" y="661" width="1" height="12" fill="#c0c0c0"/>
<rect x="448" y="659" width="1" height="14" fill="#c0c0c0"/>
<rect x="456" y="659" width="1" height="14" fill="#c0c0c0"/>
<rect x="464" y="660" width="1" height="13" fill="#c0c0c0"/>
<rect x="472" y="650" width="1" height="23" fill="#c0c0c0"/>
<rect x="480" y="640" width="1" height="33" fill="#c0c0c0"/>
<rect x="488" y="631" width="1" height="42" fill="#c0c0c0"/>
<rect x="496" y="620" width="1" height="53" fill="#c0c0c0"/>
<rect x="504" y="612" width="1" height="61" fill="#c0c0c0"/>
<rect x="512" y="618" width="1" height="55" fill="#c0c0c0"/>
<rect x="520" y="629" width="1" height="44" fill="#c0c0c0"/>
<rect x="528" y="646" width="1" height="27" fill="#c0c0c0"/>
<rect x="536" y="662" width="1" height="11" fill="#c0c0c0"/>
<rect x="544" y="668" width="1" height="5" fill="#c0c0c0"/>
<rect x="552" y="673" width="1" height="1" fill="#c0c0c0"/>
<rect x="560" y="673" width="1" height="4" fill="#c0c0c0"/>
<rect x="568" y="673" width="1" height="7" fill="#c0c0c0"/>
<rect x="576" y="673" width="1" height="14" fill="#c0c0c0"/>
<rect x="584" y="673" width="1" height="19" fill="#c0c0c0"/>
<rect x="592" y="673" width="1" height="23" fill="#c0c0c0"/>
<rect x="600" y="673" width="1" height="27" fill="#c0c0c0"/>
<rect x="608" y="673" width="1" height="29" fill="#c0c0c0"/>
<rect x="616" y="673" width="1" height="35" fill="#c0c0c0"/>
<rect x="624" y="673" width="1" height="33" fill="#c0c0c0"/>
<rect x="632" y="673" width="1" height="30" fill="#c0c0c0"/>
<rect x="640" y="673" width="1" height="27" fill="#c0c0c0"/>
<rect x="648" y="673" width="1" height="24" fill="#c0c0c0"/>
<rect x="656" y="673" width="1" height="18" fill="#c0c0c0"/>
<rect x="664" y="673" width="1" height="9" fill="#c0c0c0"/>
<rect x="672" y="673" width="1" height="8" fill="#c0c0c0"/>
<rect x="680" y="673" width="1" height="6" fill="#c0c0c0"/>
<rect x="688" y="673" width="1" height="4" fill="#c0c0c0"/>
<rect x="696" y="673" width="1" height="2" fill="#c0c0c0"/>
<rect x="704" y="673" width="1" height="2" fill="#c0c0c0"/>
<rect x="720" y="673" width="1" height="2" fill="#c0c0c0"/>
<rect x="728" y="673" width="1" height="3" fill="#c0c0c0"/>
<rect x="736" y="673" width="1" height="7" fill="#c0c0c0"/>
<rect x="744" y="673" width="1" height="11" fill="#c0c0c0"/>
<rect x="752" y="673" width="1" height="9" fill="#c0c0c0"/>
<rect x="760" y="673" width="1" height="9" fill="#c0c0c0"/>
<rect x="768" y="673" width="1" height="11" fill="#c0c0c0"/>
<rect x="776" y="673" width="1" height="10" fill="#c0c0c0"/>
<rect x="784" y="673" width="1" height="11" fill="#c0c0c0"/>
<rect x="792" y="673" width="1" height="11" fill="#c0c0c0"/>
<rect x="800" y="673" width="1" height="10" fill="#c0c0c0"/>
<rect x="808" y="673" width="1" height="13" fill="#c0c0c0"/>
<rect x="816" y="673" width="1" height="11" fill="#c0c0c0"/>
<rect x="824" y="673" width="1" height="13" fill="#c0c0c0"/>
<rect x="832" y="673" width="1" height="22" fill="#c0c0c0"/>
<rect x="840" y="673" width="1" height="29" fill="#c0c0c0"/>
<rect x="848" y="673" width="1" height="41" fill="#c0c0c0"/>
<rect x="856" y="673" width="1" height="52" fill="#c0c0c0"/>
<rect x="864" y="673" width="1" height="60" fill="#c0c0c0"/>
<rect x="872" y="673" width="1" height="69" fill="#c0c0c0"/>
<rect x="880" y="673" width="1" height="66" fill="#c0c0c0"/>
<rect x="888" y="673" width="1" height="61" fill="#c0c0c0"/>
<rect x="896" y="673" width="1" height="55" fill="#c0c0c0"/>
<rect x="904" y="673" width="1" height="53" fill="#c0c0c0"/>
<rect x="912" y="673" width="1" height="52" fill="#c0c0c0"/>
<rect x="920" y="673" width="1" height="51" fill="#c0c0c0"/>
<rect x="928" y="673" width="1" height="45" fill="#c0c0c0"/>
<rect x="936" y="673" width="1" height="41" fill="#c0c0c0"/>
<rect x="944" y="673" width="1" height="37" fill="#c0c0c0"/>
<rect x="952" y="673" width="1" height="28" fill="#c0c0c0"/>
<rect x="960" y="673" width="1" height="17" fill="#c0c0c0"/>
<rect x="968" y="673" width="1" height="7" fill="#c0c0c0"/>
<rect x="976" y="673" width="1" height="3" fill="#c0c0c0"/>
<rect x="992" y="673" width="1" height="3" fill="#c0c0c0"/>
<rect x="1000" y="673" width="1" height="13" fill="#c0c0c0"/>
<rect x="1008" y="673" width="1" height="12" fill="#c0c0c0"/>
<rect x="1016" y="673" width="1" height="15" fill="#c0c0c0"/>
<rect x="1024" y="673" width="1" height="16" fill="#c0c0c0"/>
<rect x="1032" y="673" width="1" height="16" fill="#c0c0c0"/>
<rect x="1040" y="673" width="1" height="15" fill="#c0c0c0"/>
<rect x="1048" y="673" width="1" height="10" fill="#c0c0c0"/>
<rect x="1056" y="673" width="1" height="11" fill="#c0c0c0"/>
<rect x="1064" y="673" width="1" height="4" fill="#c0c0c0"/>
<rect x="1072" y="673" width="1" height="10" fill="#c0c0c0"/>
<rect x="1080" y="673" width="1" height="14" fill="#c0c0c0"/>
<rect x="1088" y="673" width="1" height="12" fill="#c0c0c0"/>
<rect x="1096" y="673" width="1" height="12" fill="#c0c0c0"/>
<rect x="1104" y="673" width="1" height="8" fill="#c0c0c0"/>
<rect x="1112" y="673" width="1" height="7" fill="#c0c0c0"/>
<rect x="1120" y="673" width="1" height="4" fill="#c0c0c0"/>
<rect x="1128" y="673" width="1" height="1" fill="#c0c0c0"/>
<rect x="1136" y="672" width="1" height="1" fill="#c0c0c0"/>
<rect x="1152" y="672" width="1" height="1" fill="#c0c0c0"/>
<rect x="1160" y="671" width="1" height="2" fill="#c0c0c0"/>
<rect x="1168" y="672" width="1" height="1" fill="#c0c0c0"/>
<rect x="1176" y="671" width="1" height="2" fill="#c0c0c0"/>
<rect x="1184" y="673" width="1" height="2" fill="#c0c0c0"/>
<rect x="1192" y="673" width="1" height="8" fill="#c0c0c0"/>
<rect x="1200" y="673" width="1" height="16" fill="#c0c0c0"/>
<rect x="1208" y="673" width="1" height="26" fill="#c0c0c0"/>
<rect x="1216" y="673" width="1" height="34" fill="#c0c0c0"/>
<rect x="1224" y="673" width="1" height="41" fill="#c0c0c0"/>
<rect x="1232" y="673" width="1" height="44" fill="#c0c0c0"/>
<rect x="1240" y="673" width="1" height="42" fill="#c0c0c0"/>
<rect x="1248" y="673" width="1" height="38" fill="#c0c0c0"/>
<rect x="1256" y="673" width="1" height="33" fill="#c0c0c0"/>
<rect x="1264" y="673" width="1" height="27" fill="#c0c0c0"/>
<rect x="1272" y="673" width="1" height="23" fill="#c0c0c0"/>
<rect x="1280" y="673" width="1" height="20" fill="#c0c0c0"/>
<rect x="1288" y="673" width="1" height="16" fill="#c0c0c0"/>
<rect x="1296" y="673" width="1" height="14" fill="#c0c0c0"/>
<rect x="1304" y="673" width="1" height="12" fill="#c0c0c0"/>
<rect x="1312" y="673" width="1" height="11" fill="#c0c0c0"/>
<rect x="1320" y="673" width="1" height="10" fill="#c0c0c0"/>
<rect x="1328" y="673" width="1" height="6" fill="#c0c0c0"/>
<rect x="1336" y="673" width="1" height="4" fill="#c0c0c0"/>
<rect x="1352" y="668" width="1" height="5" fill="#c0c0c0"/>
<rect x="1360" y="669" width="1" height="4" fill="#c0c0c0"/>
<rect x="1368" y="669" width="1" height="4" fill="#c0c0c0"/>
<rect x="1384" y="673" width="1" height="1" fill="#c0c0c0"/>
<rect x="1392" y="673" width="1" height="5" fill="#c0c0c0"/>
<rect x="1400" y="673" width="1" height="6" fill="#c0c0c0"/>
<rect x="1408" y="673" width="1" height="6" fill="#c0c0c0"/>
<rect x="1416" y="673" width="1" height="6" fill="#c0c0c0"/>
<rect x="1424" y="673" width="1" height="6" fill="#c0c0c0"/>
<rect x="1432" y="673" width="1" height="6" fill="#c0c0c0"/>
<rect x="1440" y="673" width="1" height="14" fill="#c0c0c0"/>
</g>
<g clip-path="url(#cmacd)">
<polyline points="0.5,701.9 8.5,678.8 16.5,657.1 24.5,640.2 32.5,628.6 40.5,622.8 48.5,622.3 56.5,626.2 64.5,633.2 72.5,642.1 80.5,651.8 88.5,659.5 96.5,664.8 104.5,667.4 112.5,669.2 120.5,669.7 128.5,669.8 136.5,670.9 144.5,672.5 152.5,674.6 160.5,677.8 168.5,681.3 176.5,685.2 184.5,689.0 192.5,692.2 200.5,694.6 208.5,695.8 216.5,696.6 224.5,697.6 232.5,699.1 240.5,701.0 248.5,702.7 256.5,704.5 264.5,706.8 272.5,709.1 280.5,711.6 288.5,714.5 296.5,717.3 304.5,719.0 312.5,719.6 320.5,719.1 328.5,717.9 336.5,716.2 344.5,713.7 352.5,710.4 360.5,706.3 368.5,701.6 376.5,696.4 384.5,691.3 392.5,687.1 400.5,683.2 408.5,679.1 416.5,675.5 424.5,672.4 432.5,669.4 440.5,666.8 448.5,664.8 456.5,663.2 464.5,662.2 472.5,660.1 480.5,657.4 488.5,653.8 496.5,649.0 504.5,643.6 512.5,638.8 520.5,635.5 528.5,634.0 536.5,634.2 544.5,636.2 552.5,640.0 560.5,645.0 568.5,651.7 576.5,660.0 584.5,668.2 592.5,675.7 600.5,681.7 608.5,686.1 616.5,690.5 624.5,694.1 632.5,697.0 640.5,699.3 648.5,700.3 656.5,700.2 664.5,698.6 672.5,696.5 680.5,694.0 688.5,690.7 696.5,687.2 704.5,684.2 712.5,681.3 720.5,678.8 728.5,677.2 736.5,677.0 744.5,677.3 752.5,677.7 760.5,678.2 768.5,679.2 776.5,680.0 784.5,681.2 792.5,682.3 800.5,683.0 808.5,683.6 816.5,683.6 824.5,684.0 832.5,685.5 840.5,687.5 848.5,691.0 856.5,695.5 864.5,700.9 872.5,707.5 880.5,713.4 888.5,719.0 896.5,723.6 904.5,727.1 912.5,729.7 920.5,730.7 928.5,730.0 936.5,727.9 944.5,724.2 952.5,720.0 960.5,715.1 968.5,709.8 976.5,704.2 984.5,698.5 992.5,693.2 1000.5,689.6 1008.5,686.3 1016.5,683.9 1024.5,682.7 1032.5,682.6 1040.5,683.4 1048.5,684.1 1056.5,685.3 1064.5,685.3 1072.5,685.0 1080.5,685.2 1088.5,684.9 1096.5,684.5 1104.5,683.6 1112.5,682.8 1120.5,682.2 1128.5,681.1 1136.5,680.6 1144.5,679.5 1152.5,677.8 1160.5,676.2 1168.5,674.8 1176.5,673.6 1184.5,673.1 1192.5,673.6 1200.5,675.3 1208.5,678.3 1216.5,682.1 1224.5,686.7 1232.5,691.7 1240.5,696.6 1248.5,701.0 1256.5,704.4 1264.5,706.5 1272.5,707.2 1280.5,706.6 1288.5,704.5 1296.5,701.6 1304.5,698.0 1312.5,694.6 1320.5,691.5 1328.5,688.5 1336.5,686.0 1344.5,683.4 1352.5,680.6 1360.5,678.4 1368.5,676.4 1376.5,675.1 1384.5,673.9 1392.5,673.4 1400.5,673.3 1408.5,673.5 1416.5,674.3 1424.5,675.4 1432.5,676.5 1440.5,678.5" fill="none" stroke="#ff0000" stroke-width="1" shape-rendering="crispEdges" stroke-dasharray="3,3"/>
</g>
<g shape-rendering="crispEdges">
<line x1="0" y1="789.5" x2="1682" y2="789.5" stroke="#c0c0c0" stroke-dasharray="3,3"/>
<line x1="0" y1="840.5" x2="1682" y2="840.5" stroke="#c0c0c0" stroke-dasharray="3,3"/>
<line x1="0" y1="901.5" x2="1682" y2="901.5" stroke="#c0c0c0" stroke-dasharray="3,3"/>
</g>
<g clip-path="url(#crsi)">
<polyline points="0.5,820.5 8.5,823.5 16.5,837.7 24.5,846.9 32.5,848.8 40.5,844.0 48.5,848.0 56.5,849.6 64.5,843.2 72.5,841.1 80.5,837.5 88.5,834.0 96.5,838.5 104.5,835.9 112.5,840.9 120.5,841.9 128.5,848.9 136.5,853.6 144.5,847.6 152.5,844.1 160.5,847.5 168.5,846.1 176.5,846.5 184.5,845.8 192.5,844.3 200.5,846.7 208.5,849.9 216.5,848.4 224.5,851.7 232.5,859.2 240.5,860.9 248.5,847.8 256.5,854.0 264.5,855.7 272.5,856.3 280.5,860.0 288.5,863.3 296.5,859.4 304.5,852.4 312.5,846.7 320.5,833.8 328.5,841.9 336.5,846.2 344.5,838.0 352.5,839.6 360.5,840.8 368.5,837.3 376.5,828.9 384.5,834.2 392.5,833.2 400.5,834.8 408.5,830.8 416.5,832.9 424.5,838.1 432.5,830.6 440.5,835.2 448.5,831.3 456.5,834.0 464.5,838.4 472.5,812.8 480.5,810.4 488.5,808.2 496.5,802.1 504.5,801.9 512.5,833.6 520.5,845.3 528.5,857.2 536.5,859.7 544.5,847.2 552.5,849.1 560.5,846.0 568.5,847.6 576.5,855.8 584.5,853.3 592.5,855.2 600.5,855.9 608.5,854.1 616.5,862.4 624.5,847.9 632.5,845.1 640.5,844.5 648.5,843.3 656.5,835.5 664.5,827.2 672.5,841.6 680.5,838.8 688.5,839.1 696.5,836.8 704.5,842.3 712.5,836.8 720.5,844.2 728.5,845.4 736.5,852.2 744.5,852.4 752.5,842.1 760.5,843.0 768.5,851.7 776.5,841.0 784.5,848.6 792.5,844.9 800.5,842.4 808.5,851.4 816.5,841.5 824.5,849.5 832.5,865.1 840.5,865.3 848.5,875.2 856.5,877.2 864.5,878.0 872.5,882.3 880.5,853.7 888.5,851.5 896.5,848.0 904.5,855.2 912.5,856.1 920.5,856.1 928.5,846.5 936.5,848.2 944.5,844.8 952.5,833.3 960.5,826.5 968.5,823.9 976.5,834.9 984.5,834.9 992.5,847.6 1000.5,861.1 1008.5,842.8 1016.5,849.6 1024.5,846.7 1032.5,845.5 1040.5,843.1 1048.5,835.3 1056.5,845.4 1064.5,831.6 1072.5,851.3 1080.5,849.2 1088.5,841.5 1096.5,843.2 1104.5,837.8 1112.5,840.0 1120.5,837.9 1128.5,836.0 1136.5,836.5 1144.5,843.2 1152.5,837.5 1160.5,839.6 1168.5,840.7 1176.5,839.3 1184.5,849.2 1192.5,855.9 1200.5,861.8 1208.5,867.9 1216.5,869.9 1224.5,870.0 1232.5,865.1 1240.5,853.9 1248.5,847.0 1256.5,843.2 1264.5,839.4 1272.5,840.4 1280.5,843.6 1288.5,836.6 1296.5,843.4 1304.5,840.5 1312.5,845.0 1320.5,841.3 1328.5,835.1 1336.5,837.6 1344.5,827.8 1352.5,826.1 1360.5,840.4 1368.5,840.4 1376.5,849.1 1384.5,844.5 1392.5,854.0 1400.5,846.4 1408.5,845.1 1416.5,844.6 1424.5,842.7 1432.5,843.4 1440.5,868.4" fill="none" stroke="#1e90ff" stroke-width="1" shape-rendering="crispEdges" />
</g>
<g shape-rendering="crispEdges">
<rect x="0" y="26" width="1683" height="1" fill="#000"/>
<rect x="0" y="579" width="1683" height="1" fill="#000"/>
<rect x="0" y="581" width="1683" height="1" fill="#000"/>
<rect x="0" y="751" width="1683" height="1" fill="#000"/>
<rect x="0" y="753" width="1683" height="1" fill="#000"/>
<rect x="0" y="927" width="1683" height="1" fill="#000"/>
<rect x="1682" y="26" width="1" height="554" fill="#000"/>
<rect x="1682" y="581" width="1" height="171" fill="#000"/>
<rect x="1682" y="753" width="1" height="175" fill="#000"/>
</g>
<g shape-rendering="crispEdges">
<rect x="1683" y="48" width="3" height="1" fill="#000"/>
<rect x="1683" y="81" width="3" height="1" fill="#000"/>
<rect x="1683" y="115" width="3" height="1" fill="#000"/>
<rect x="1683" y="148" width="3" height="1" fill="#000"/>
<rect x="1683" y="180" width="3" height="1" fill="#000"/>
<rect x="1683" y="213" width="3" height="1" fill="#000"/>
<rect x="1683" y="246" width="3" height="1" fill="#000"/>
<rect x="1683" y="279" width="3" height="1" fill="#000"/>
<rect x="1683" y="312" width="3" height="1" fill="#000"/>
<rect x="1683" y="346" width="3" height="1" fill="#000"/>
<rect x="1683" y="378" width="3" height="1" fill="#000"/>
<rect x="1683" y="411" width="3" height="1" fill="#000"/>
<rect x="1683" y="444" width="3" height="1" fill="#000"/>
<rect x="1683" y="477" width="3" height="1" fill="#000"/>
<rect x="1683" y="510" width="3" height="1" fill="#000"/>
<rect x="1683" y="543" width="3" height="1" fill="#000"/>
</g>
<text x="1688.5" y="51.971100000000035" font-family='"Liberation Sans","Noto Sans CJK SC",sans-serif' font-size="9.7" fill="#000" text-anchor="start" font-weight="normal" textLength="32.6" lengthAdjust="spacingAndGlyphs">111.795</text>
<text x="1688.5" y="84.82425000000035" font-family='"Liberation Sans","Noto Sans CJK SC",sans-serif' font-size="9.7" fill="#000" text-anchor="start" font-weight="normal" textLength="32.6" lengthAdjust="spacingAndGlyphs">111.300</text>
<text x="1688.5" y="118.67294999999973" font-family='"Liberation Sans","Noto Sans CJK SC",sans-serif' font-size="9.7" fill="#000" text-anchor="start" font-weight="normal" textLength="32.6" lengthAdjust="spacingAndGlyphs">110.790</text>
<text x="1688.5" y="151.52610000000004" font-family='"Liberation Sans","Noto Sans CJK SC",sans-serif' font-size="9.7" fill="#000" text-anchor="start" font-weight="normal" textLength="32.6" lengthAdjust="spacingAndGlyphs">110.295</text>
<text x="1688.5" y="184.37925000000035" font-family='"Liberation Sans","Noto Sans CJK SC",sans-serif' font-size="9.7" fill="#000" text-anchor="start" font-weight="normal" textLength="32.6" lengthAdjust="spacingAndGlyphs">109.800</text>
<text x="1688.5" y="217.2323999999997" font-family='"Liberation Sans","Noto Sans CJK SC",sans-serif' font-size="9.7" fill="#000" text-anchor="start" font-weight="normal" textLength="32.6" lengthAdjust="spacingAndGlyphs">109.305</text>
<text x="1688.5" y="250.08555" font-family='"Liberation Sans","Noto Sans CJK SC",sans-serif' font-size="9.7" fill="#000" text-anchor="start" font-weight="normal" textLength="32.6" lengthAdjust="spacingAndGlyphs">108.810</text>
<text x="1688.5" y="282.9387000000003" font-family='"Liberation Sans","Noto Sans CJK SC",sans-serif' font-size="9.7" fill="#000" text-anchor="start" font-weight="normal" textLength="32.6" lengthAdjust="spacingAndGlyphs">108.315</text>
<text x="1688.5" y="315.79185000000064" font-family='"Liberation Sans","Noto Sans CJK SC",sans-serif' font-size="9.7" fill="#000" text-anchor="start" font-weight="normal" textLength="32.6" lengthAdjust="spacingAndGlyphs">107.820</text>
<text x="1688.5" y="349.64055" font-family='"Liberation Sans","Noto Sans CJK SC",sans-serif' font-size="9.7" fill="#000" text-anchor="start" font-weight="normal" textLength="32.6" lengthAdjust="spacingAndGlyphs">107.310</text>
<text x="1688.5" y="382.49370000000033" font-family='"Liberation Sans","Noto Sans CJK SC",sans-serif' font-size="9.7" fill="#000" text-anchor="start" font-weight="normal" textLength="32.6" lengthAdjust="spacingAndGlyphs">106.815</text>
<text x="1688.5" y="415.34685000000064" font-family='"Liberation Sans","Noto Sans CJK SC",sans-serif' font-size="9.7" fill="#000" text-anchor="start" font-weight="normal" textLength="32.6" lengthAdjust="spacingAndGlyphs">106.320</text>
<text x="1688.5" y="448.2" font-family='"Liberation Sans","Noto Sans CJK SC",sans-serif' font-size="9.7" fill="#000" text-anchor="start" font-weight="normal" textLength="32.6" lengthAdjust="spacingAndGlyphs">105.825</text>
<text x="1688.5" y="481.0531500000003" font-family='"Liberation Sans","Noto Sans CJK SC",sans-serif' font-size="9.7" fill="#000" text-anchor="start" font-weight="normal" textLength="32.6" lengthAdjust="spacingAndGlyphs">105.330</text>
<text x="1688.5" y="513.9063000000006" font-family='"Liberation Sans","Noto Sans CJK SC",sans-serif' font-size="9.7" fill="#000" text-anchor="start" font-weight="normal" textLength="32.6" lengthAdjust="spacingAndGlyphs">104.835</text>
<text x="1688.5" y="546.75945" font-family='"Liberation Sans","Noto Sans CJK SC",sans-serif' font-size="9.7" fill="#000" text-anchor="start" font-weight="normal" textLength="32.6" lengthAdjust="spacingAndGlyphs">104.340</text>
<g shape-rendering="crispEdges">
<rect x="1684" y="464" width="41" height="11" fill="#ff0000"/>
<rect x="1677.5" y="468.5" width="4" height="4" fill="#fff" stroke="#ff0000" stroke-width="1"/>
<rect x="1684" y="488" width="41" height="11" fill="#ff0000"/>
<rect x="1677.5" y="492.5" width="4" height="4" fill="#fff" stroke="#ff0000" stroke-width="1"/>
<rect x="1684" y="507" width="41" height="11" fill="#32cd32"/>
<rect x="1677.5" y="511.5" width="4" height="4" fill="#fff" stroke="#32cd32" stroke-width="1"/>
<rect x="1684" y="525" width="41" height="11" fill="#000000"/>
<rect x="1684" y="550" width="41" height="11" fill="#0000ff"/>
<rect x="1677.5" y="554.5" width="4" height="4" fill="#fff" stroke="#0000ff" stroke-width="1"/>
<rect x="1684" y="569" width="41" height="11" fill="#0000ff"/>
<rect x="1677.5" y="573.5" width="4" height="4" fill="#fff" stroke="#0000ff" stroke-width="1"/>
</g>
<text x="1688.5" y="472.8" font-family='"Liberation Sans","Noto Sans CJK SC",sans-serif' font-size="9.7" fill="#fff" text-anchor="start" font-weight="normal" textLength="32.6" lengthAdjust="spacingAndGlyphs">105.439</text>
<text x="1688.5" y="496.8" font-family='"Liberation Sans","Noto Sans CJK SC",sans-serif' font-size="9.7" fill="#fff" text-anchor="start" font-weight="normal" textLength="32.6" lengthAdjust="spacingAndGlyphs">105.078</text>
<text x="1688.5" y="515.8" font-family='"Liberation Sans","Noto Sans CJK SC",sans-serif' font-size="9.7" fill="#fff" text-anchor="start" font-weight="normal" textLength="32.6" lengthAdjust="spacingAndGlyphs">104.792</text>
<text x="1688.5" y="533.6" font-family='"Liberation Sans","Noto Sans CJK SC",sans-serif' font-size="9.7" fill="#fff" text-anchor="start" font-weight="normal" textLength="32.6" lengthAdjust="spacingAndGlyphs">104.531</text>
<text x="1688.5" y="558.8" font-family='"Liberation Sans","Noto Sans CJK SC",sans-serif' font-size="9.7" fill="#fff" text-anchor="start" font-weight="normal" textLength="32.6" lengthAdjust="spacingAndGlyphs">104.146</text>
<text x="1688.5" y="577.8" font-family='"Liberation Sans","Noto Sans CJK SC",sans-serif' font-size="9.7" fill="#fff" text-anchor="start" font-weight="normal" textLength="32.6" lengthAdjust="spacingAndGlyphs">103.860</text>
<g shape-rendering="crispEdges">
<rect x="1683" y="583" width="3" height="1" fill="#000"/>
<rect x="1683" y="673" width="3" height="1" fill="#000"/>
<rect x="1683" y="750" width="3" height="1" fill="#000"/>
<rect x="1683" y="755" width="3" height="1" fill="#000"/>
<rect x="1683" y="789" width="3" height="1" fill="#000"/>
<rect x="1683" y="840" width="3" height="1" fill="#000"/>
<rect x="1683" y="901" width="3" height="1" fill="#000"/>
<rect x="1683" y="921" width="3" height="1" fill="#000"/>
</g>
<text x="1686.5" y="592.2" font-family='"Liberation Sans","Noto Sans CJK SC",sans-serif' font-size="9.7" fill="#000" text-anchor="start" font-weight="normal" textLength="27.6" lengthAdjust="spacingAndGlyphs">0.7591</text>
<text x="1686.5" y="677.2" font-family='"Liberation Sans","Noto Sans CJK SC",sans-serif' font-size="9.7" fill="#000" text-anchor="start" font-weight="normal" textLength="17.6" lengthAdjust="spacingAndGlyphs">0.00</text>
<text x="1686.5" y="748.5" font-family='"Liberation Sans","Noto Sans CJK SC",sans-serif' font-size="9.7" fill="#000" text-anchor="start" font-weight="normal" textLength="31.0" lengthAdjust="spacingAndGlyphs">-0.6482</text>
<text x="1686.5" y="764.3" font-family='"Liberation Sans","Noto Sans CJK SC",sans-serif' font-size="9.7" fill="#000" text-anchor="start" font-weight="normal" textLength="15.0" lengthAdjust="spacingAndGlyphs">100</text>
<text x="1686.5" y="793.0" font-family='"Liberation Sans","Noto Sans CJK SC",sans-serif' font-size="9.7" fill="#000" text-anchor="start" font-weight="normal" textLength="10.0" lengthAdjust="spacingAndGlyphs">80</text>
<text x="1686.5" y="844.0" font-family='"Liberation Sans","Noto Sans CJK SC",sans-serif' font-size="9.7" fill="#000" text-anchor="start" font-weight="normal" textLength="10.0" lengthAdjust="spacingAndGlyphs">50</text>
<text x="1686.5" y="904.8" font-family='"Liberation Sans","Noto Sans CJK SC",sans-serif' font-size="9.7" fill="#000" text-anchor="start" font-weight="normal" textLength="10.0" lengthAdjust="spacingAndGlyphs">15</text>
<text x="1686.5" y="923.8" font-family='"Liberation Sans","Noto Sans CJK SC",sans-serif' font-size="9.7" fill="#000" text-anchor="start" font-weight="normal" textLength="5.0" lengthAdjust="spacingAndGlyphs">0</text>
<g shape-rendering="crispEdges">
<rect x="56" y="928" width="1" height="3" fill="#000"/>
<rect x="120" y="928" width="1" height="3" fill="#000"/>
<rect x="184" y="928" width="1" height="3" fill="#000"/>
<rect x="248" y="928" width="1" height="3" fill="#000"/>
<rect x="312" y="928" width="1" height="3" fill="#000"/>
<rect x="376" y="928" width="1" height="3" fill="#000"/>
<rect x="440" y="928" width="1" height="3" fill="#000"/>
<rect x="504" y="928" width="1" height="3" fill="#000"/>
<rect x="568" y="928" width="1" height="3" fill="#000"/>
<rect x="632" y="928" width="1" height="3" fill="#000"/>
<rect x="696" y="928" width="1" height="3" fill="#000"/>
<rect x="760" y="928" width="1" height="3" fill="#000"/>
<rect x="824" y="928" width="1" height="3" fill="#000"/>
<rect x="888" y="928" width="1" height="3" fill="#000"/>
<rect x="952" y="928" width="1" height="3" fill="#000"/>
<rect x="1016" y="928" width="1" height="3" fill="#000"/>
<rect x="1080" y="928" width="1" height="3" fill="#000"/>
<rect x="1144" y="928" width="1" height="3" fill="#000"/>
<rect x="1208" y="928" width="1" height="3" fill="#000"/>
<rect x="1272" y="928" width="1" height="3" fill="#000"/>
<rect x="1336" y="928" width="1" height="3" fill="#000"/>
<rect x="1400" y="928" width="1" height="3" fill="#000"/>
</g>
<text x="-8.9" y="940.3" font-family='"Liberation Sans","Noto Sans CJK SC",sans-serif' font-size="9.2" fill="#000" text-anchor="start" font-weight="normal" >23 Mar 2020</text>
<text x="55.4" y="940.3" font-family='"Liberation Sans","Noto Sans CJK SC",sans-serif' font-size="9.2" fill="#000" text-anchor="start" font-weight="normal" >1 Apr 2020</text>
<text x="119.4" y="940.3" font-family='"Liberation Sans","Noto Sans CJK SC",sans-serif' font-size="9.2" fill="#000" text-anchor="start" font-weight="normal" >12 Apr 2020</text>
<text x="183.4" y="940.3" font-family='"Liberation Sans","Noto Sans CJK SC",sans-serif' font-size="9.2" fill="#000" text-anchor="start" font-weight="normal" >21 Apr 2020</text>
<text x="247.4" y="940.3" font-family='"Liberation Sans","Noto Sans CJK SC",sans-serif' font-size="9.2" fill="#000" text-anchor="start" font-weight="normal" >30 Apr 2020</text>
<text x="311.4" y="940.3" font-family='"Liberation Sans","Noto Sans CJK SC",sans-serif' font-size="9.2" fill="#000" text-anchor="start" font-weight="normal" >10 May 2020</text>
<text x="375.4" y="940.3" font-family='"Liberation Sans","Noto Sans CJK SC",sans-serif' font-size="9.2" fill="#000" text-anchor="start" font-weight="normal" >19 May 2020</text>
<text x="439.4" y="940.3" font-family='"Liberation Sans","Noto Sans CJK SC",sans-serif' font-size="9.2" fill="#000" text-anchor="start" font-weight="normal" >28 May 2020</text>
<text x="503.4" y="940.3" font-family='"Liberation Sans","Noto Sans CJK SC",sans-serif' font-size="9.2" fill="#000" text-anchor="start" font-weight="normal" >7 Jun 2020</text>
<text x="567.4" y="940.3" font-family='"Liberation Sans","Noto Sans CJK SC",sans-serif' font-size="9.2" fill="#000" text-anchor="start" font-weight="normal" >16 Jun 2020</text>
<text x="631.4" y="940.3" font-family='"Liberation Sans","Noto Sans CJK SC",sans-serif' font-size="9.2" fill="#000" text-anchor="start" font-weight="normal" >25 Jun 2020</text>
<text x="695.4" y="940.3" font-family='"Liberation Sans","Noto Sans CJK SC",sans-serif' font-size="9.2" fill="#000" text-anchor="start" font-weight="normal" >5 Jul 2020</text>
<text x="759.4" y="940.3" font-family='"Liberation Sans","Noto Sans CJK SC",sans-serif' font-size="9.2" fill="#000" text-anchor="start" font-weight="normal" >14 Jul 2020</text>
<text x="823.4" y="940.3" font-family='"Liberation Sans","Noto Sans CJK SC",sans-serif' font-size="9.2" fill="#000" text-anchor="start" font-weight="normal" >23 Jul 2020</text>
<text x="887.4" y="940.3" font-family='"Liberation Sans","Noto Sans CJK SC",sans-serif' font-size="9.2" fill="#000" text-anchor="start" font-weight="normal" >2 Aug 2020</text>
<text x="951.4" y="940.3" font-family='"Liberation Sans","Noto Sans CJK SC",sans-serif' font-size="9.2" fill="#000" text-anchor="start" font-weight="normal" >11 Aug 2020</text>
<text x="1015.4" y="940.3" font-family='"Liberation Sans","Noto Sans CJK SC",sans-serif' font-size="9.2" fill="#000" text-anchor="start" font-weight="normal" >20 Aug 2020</text>
<text x="1079.4" y="940.3" font-family='"Liberation Sans","Noto Sans CJK SC",sans-serif' font-size="9.2" fill="#000" text-anchor="start" font-weight="normal" >30 Aug 2020</text>
<text x="1143.4" y="940.3" font-family='"Liberation Sans","Noto Sans CJK SC",sans-serif' font-size="9.2" fill="#000" text-anchor="start" font-weight="normal" >8 Sep 2020</text>
<text x="1207.4" y="940.3" font-family='"Liberation Sans","Noto Sans CJK SC",sans-serif' font-size="9.2" fill="#000" text-anchor="start" font-weight="normal" >17 Sep 2020</text>
<text x="1271.4" y="940.3" font-family='"Liberation Sans","Noto Sans CJK SC",sans-serif' font-size="9.2" fill="#000" text-anchor="start" font-weight="normal" >27 Sep 2020</text>
<text x="1335.4" y="940.3" font-family='"Liberation Sans","Noto Sans CJK SC",sans-serif' font-size="9.2" fill="#000" text-anchor="start" font-weight="normal" >6 Oct 2020</text>
<text x="1399.4" y="940.3" font-family='"Liberation Sans","Noto Sans CJK SC",sans-serif' font-size="9.2" fill="#000" text-anchor="start" font-weight="normal" >15 Oct 2020</text>
<g clip-path="url(#cmain)">
<line x1="1353.3" y1="428.3" x2="1455.3" y2="536.5" stroke="#ff0000" stroke-width="4.4" shape-rendering="crispEdges"/>
<polygon points="1461.5,543.0 1450.6,539.5 1458.6,532.0" fill="#ff0000"/>
<rect x="1276" y="508" width="204" height="6" fill="#00ff00" shape-rendering="crispEdges"/>
</g>
<g clip-path="url(#crsi)">
<line x1="1352.3" y1="826.9" x2="1435.6" y2="858.3" stroke="#ff0000" stroke-width="4.3" shape-rendering="crispEdges"/>
<polygon points="1445.0,861.8 1432.6,863.5 1436.8,852.3" fill="#ff0000"/>
</g>
<g shape-rendering="crispEdges">
<rect x="1062" y="369" width="11" height="1" fill="#ff0000"/>
<rect x="1334" y="428" width="11" height="1" fill="#ff0000"/>
<rect x="863" y="551" width="10" height="1" fill="#ff0000"/>
<rect x="1222" y="566" width="11" height="1" fill="#ff0000"/>
<rect x="1105" y="513" width="7" height="1" fill="#ff0000"/>
<rect x="1112.5" y="511.5" width="3" height="3" fill="#fff" stroke="#ff0000"/>
</g>
<rect x="1001.5" y="360.5" width="61" height="18" fill="#fff" stroke="#ff0000" stroke-width="1" shape-rendering="crispEdges"/>
<text x="1004" y="376" font-family='"DejaVu Sans",sans-serif' font-size="16.5" fill="#ff0000" stroke="#ff0000" stroke-width="0" textLength="57" lengthAdjust="spacingAndGlyphs">106.959</text>
<rect x="1273.5" y="419.5" width="61" height="18" fill="#fff" stroke="#ff0000" stroke-width="1" shape-rendering="crispEdges"/>
<text x="1276" y="435.2" font-family='"DejaVu Sans",sans-serif' font-size="16.5" fill="#ff0000" stroke="#ff0000" stroke-width="0" textLength="57" lengthAdjust="spacingAndGlyphs">106.070</text>
<rect x="1161.5" y="557.5" width="61" height="18" fill="#fff" stroke="#ff0000" stroke-width="1" shape-rendering="crispEdges"/>
<text x="1164" y="573.3" font-family='"DejaVu Sans",sans-serif' font-size="16.5" fill="#ff0000" stroke="#ff0000" stroke-width="0" textLength="57" lengthAdjust="spacingAndGlyphs">103.989</text>
<rect x="1115.5" y="501.5" width="73" height="24" fill="#fff" stroke="#ff0000" stroke-width="1" shape-rendering="crispEdges"/>
<text x="1116.7" y="522" font-family='"DejaVu Sans",sans-serif' font-size="22" fill="#ff0000" stroke="#ff0000" stroke-width="0.45" textLength="72" lengthAdjust="spacingAndGlyphs">104.792</text>
<rect x="788.5" y="539.5" width="75" height="24" fill="#fff" stroke="#ff0000" stroke-width="1" shape-rendering="crispEdges"/>
<text x="790.6" y="560.2" font-family='"DejaVu Sans",sans-serif' font-size="22" fill="#ff0000" stroke="#ff0000" stroke-width="0.45" textLength="72.2" lengthAdjust="spacingAndGlyphs">104.215</text>
<rect x="1489.5" y="520.5" width="110" height="24" fill="none" stroke="#404040" stroke-width="1" shape-rendering="crispEdges"/>
<text x="1490.5" y="539" font-family='"Noto Sans CJK SC","WenQuanYi Zen Hei",sans-serif' font-size="21" font-weight="300" fill="#00ff00" textLength="106" lengthAdjust="spacingAndGlyphs">多空转折点</text>
<polygon points="1440,27 1449,27 1444.5,32" fill="#c0c0c0"/>
<polygon points="0,37 2,34 2,37" fill="#000"/>
<text x="7.6" y="38" font-family='"Liberation Sans","Noto Sans CJK SC",sans-serif' font-size="9.7" fill="#000" text-anchor="start" font-weight="normal" textLength="63" lengthAdjust="spacingAndGlyphs">USDJPY-,Daily</text>
<text x="77.6" y="38" font-family='"Liberation Sans","Noto Sans CJK SC",sans-serif' font-size="9.7" fill="#000" text-anchor="start" font-weight="normal" textLength="139.5" lengthAdjust="spacingAndGlyphs">105.472 105.484 104.334 104.531</text>
<text x="-0.8" y="593" font-family='"Liberation Sans","Noto Sans CJK SC",sans-serif' font-size="9.5" fill="#000" text-anchor="start" font-weight="normal" textLength="130.5" lengthAdjust="spacingAndGlyphs">MACD(12,26,9) -0.1170 -0.0476</text>
<text x="-1.6" y="766" font-family='"Liberation Sans","Noto Sans CJK SC",sans-serif' font-size="9" fill="#000" text-anchor="start" font-weight="normal" >RSI(14) 33.7175</text>
<defs>
<linearGradient id="gTop" x1="0" y1="0" x2="0" y2="1"><stop offset="0" stop-color="#f75a5a"/><stop offset="1" stop-color="#e23232"/></linearGradient>
<linearGradient id="gBot" x1="0" y1="0" x2="0" y2="1"><stop offset="0" stop-color="#dc2c2c"/><stop offset="1" stop-color="#b30303"/></linearGradient>
<linearGradient id="gBtn" x1="0" y1="0" x2="0" y2="1"><stop offset="0" stop-color="#f4f4f4"/><stop offset="0.45" stop-color="#ebebeb"/><stop offset="0.5" stop-color="#dddddd"/><stop offset="1" stop-color="#d2d2d2"/></linearGradient>
</defs>
<g shape-rendering="crispEdges">
<rect x="47" y="46" width="115" height="24" fill="#ffffff"/>
<linearGradient id="gP" gradientUnits="userSpaceOnUse" x1="0" y1="46" x2="0" y2="110"><stop offset="0" stop-color="#f75a5a"/><stop offset="0.25" stop-color="#e83c3c"/><stop offset="0.45" stop-color="#dc2828"/><stop offset="1" stop-color="#b10303"/></linearGradient>
<path d="M0 46H47V70H104V110H0Z" fill="#b40000"/>
<path d="M0 47H46V71H103V109H0Z" fill="url(#gP)"/>
<path d="M162 46H214V110H106V70H162Z" fill="#b40000"/>
<path d="M163 47H213V109H107V71H163Z" fill="url(#gP)"/>
<rect x="0" y="69" width="43" height="1" fill="#8b0000"/>
<rect x="0" y="70" width="43" height="1" fill="#ff7070"/>
<rect x="166" y="69" width="44" height="1" fill="#8b0000"/>
<rect x="166" y="70" width="44" height="1" fill="#ff7070"/>
<rect x="49" y="46" width="111" height="22" fill="#a8a8b0"/>
<rect x="50" y="47" width="109" height="20" fill="#ffffff"/>
<rect x="51" y="48" width="19" height="18" fill="url(#gBtn)"/>
<rect x="70" y="47" width="1" height="20" fill="#a8a8b0"/>
<rect x="138" y="47" width="1" height="20" fill="#a8a8b0"/>
<rect x="140" y="48" width="19" height="18" fill="url(#gBtn)"/>
</g>
<polygon points="57,55.5 62,55.5 59.5,58.5" fill="#4a5cc8"/>
<polygon points="146,58.5 151,58.5 148.5,55.5" fill="#4a5cc8"/>
<text x="134.5" y="61" font-family='"Liberation Sans","Noto Sans CJK SC",sans-serif' font-size="12.2" fill="#000" text-anchor="end" font-weight="normal" >1.00</text>
<text x="7" y="62" font-family='"Liberation Sans","Noto Sans CJK SC",sans-serif' font-size="12" fill="#fff" text-anchor="start" font-weight="normal" textLength="26" lengthAdjust="spacingAndGlyphs">SELL</text>
<text x="175" y="62" font-family='"Liberation Sans","Noto Sans CJK SC",sans-serif' font-size="12" fill="#fff" text-anchor="start" font-weight="normal" textLength="24" lengthAdjust="spacingAndGlyphs">BUY</text>
<text x="18" y="101" font-family='"Liberation Sans","Noto Sans CJK SC",sans-serif' font-size="12.5" fill="#fff" text-anchor="start" font-weight="bold" >104</text>
<text x="43.2" y="100.7" font-family='"Noto Sans CJK SC",sans-serif' font-size="34" fill="#fff" text-anchor="start" font-weight="400" textLength="33" lengthAdjust="spacingAndGlyphs">53</text>
<text x="82" y="85" font-family='"Liberation Sans","Noto Sans CJK SC",sans-serif' font-size="11.5" fill="#fff" text-anchor="start" font-weight="bold" >1</text>
<text x="128.5" y="101" font-family='"Liberation Sans","Noto Sans CJK SC",sans-serif' font-size="12.5" fill="#fff" text-anchor="start" font-weight="bold" >104</text>
<text x="154" y="100.7" font-family='"Noto Sans CJK SC",sans-serif' font-size="34" fill="#fff" text-anchor="start" font-weight="400" textLength="34" lengthAdjust="spacingAndGlyphs">54</text>
<text x="192.5" y="85" font-family='"Liberation Sans","Noto Sans CJK SC",sans-serif' font-size="11.5" fill="#fff" text-anchor="start" font-weight="bold" >8</text>
<rect x="-6" y="3.5" width="11.5" height="14" fill="#fff" stroke="#3c7fd0" stroke-width="1.2"/>
<path d="M0 7.5h5 M0 10h5 M0 12.5h5" stroke="#8fb4e6" stroke-width="1"/>
<rect x="18.5" y="2.5" width="12" height="13" fill="#f4f0e8" stroke="#9a9080" stroke-width="1"/>
<path d="M21 5v8 M27 5v7" stroke="#777" stroke-width="1"/>
<circle cx="26.5" cy="11" r="4.5" fill="#cfe3f7" fill-opacity="0.8" stroke="#5a8fd8" stroke-width="1.2"/>
<path d="M29.5 14.5l4.5 4.5" stroke="#c9a020" stroke-width="2.2"/>
<rect x="43" y="1" width="1" height="19" fill="#a0a0a0" shape-rendering="crispEdges"/>
<path d="M53.5 2.5h8l3 3v12h-11z" fill="#f2f2f2" stroke="#707070" stroke-width="1"/>
<path d="M55 6h4 M55 9h6 M55 12h5" stroke="#808080" stroke-width="1"/>
<path d="M57 13.5h12 M63 7.5v12" stroke="#18a018" stroke-width="4.2"/>
<path d="M57.8 13.5h10.4 M63 8.3v10.4" stroke="#50e850" stroke-width="2"/>
<text x="71.5" y="14" font-family='"Noto Sans CJK SC","WenQuanYi Zen Hei",sans-serif' font-size="12" fill="#000">新订单</text>
<linearGradient id="gBook" x1="0" y1="0" x2="1" y2="1"><stop offset="0" stop-color="#fbe27a"/><stop offset="0.6" stop-color="#e2b020"/><stop offset="1" stop-color="#b07810"/></linearGradient>
<path d="M125.5 3.2 Q124 6 121 10.8 L129.5 17.6 L136 11.2 Q131 8 125.5 3.2Z" fill="url(#gBook)" stroke="#a86a10" stroke-width="0.9"/>
<path d="M121.5 12 L129.5 18.2 L136 12.2" fill="none" stroke="#d8a040" stroke-width="0.8"/>
<path d="M123 10 L130 15.5" fill="none" stroke="#fff2b0" stroke-width="0.8"/>
<path d="M150.5 3.5 L153 2.2 H160.5 V10.5 H150.5Z" fill="#2f8ff0" stroke="#1e6cc8" stroke-width="0.8"/>
<path d="M153 2.2 V10.5" stroke="#8cc8ff" stroke-width="0.8"/>
<path d="M154.5 5.5h4.5 M154.5 7.5h4.5" stroke="#ffffff" stroke-width="0.9"/>
<path d="M149.5 17.5 Q146.8 17 148 14.2 Q149 12.2 151.5 12.8 Q152.5 9.8 156 10.2 Q158.8 10.5 159.5 12.6 Q163.5 12.2 163.8 15.2 Q163.8 17.5 161 17.5Z" fill="#eef2f8" stroke="#5a76a6" stroke-width="1"/>
<path d="M150 15.5 Q156 14.3 162 15.5" fill="none" stroke="#c8d4e6" stroke-width="1"/>
<path d="M180.6 16.2 A7.3 7.3 0 0 1 184 2.7" fill="none" stroke="#90aee0" stroke-width="1"/>
<path d="M181.6 13.6 A4.8 4.8 0 0 1 184 5" fill="none" stroke="#4a78d0" stroke-width="1"/>
<path d="M184 2.7 A7.3 7.3 0 0 1 184 17.3" fill="none" stroke="#a8d0a8" stroke-width="1.2"/>
<path d="M184 5 A4.8 4.8 0 0 1 188 12.4" fill="none" stroke="#88b8d8" stroke-width="1"/>
<path d="M184 9.7 V17.6 M184 17.3 Q188.5 16.6 190.8 12.5" fill="none" stroke="#2a9a2a" stroke-width="1.5"/>
<circle cx="184" cy="9.7" r="1.8" fill="#2050c8"/>
<path d="M203.5 10 L218.5 10 L212 17.5 Z" fill="#f2d040" stroke="#c0a020" stroke-width="0.7"/>
<ellipse cx="211" cy="7" rx="7.5" ry="2.6" fill="#58a8e0" stroke="#2a78b8" stroke-width="0.7"/>
<ellipse cx="211" cy="4.6" rx="3.6" ry="2.6" fill="#78bce8" stroke="#2a78b8" stroke-width="0.7"/>
<circle cx="215.8" cy="13.8" r="3.9" fill="#d42010"/>
<rect x="214.2" y="12.2" width="3.2" height="3.2" fill="#fff"/>
<text x="224.5" y="14" font-family='"Noto Sans CJK SC","WenQuanYi Zen Hei",sans-serif' font-size="12" fill="#000">自动交易</text>
<rect x="279" y="1" width="1" height="19" fill="#a0a0a0" shape-rendering="crispEdges"/>
<rect x="283" y="1" width="3" height="1" fill="#b0b0b0" shape-rendering="crispEdges"/>
<rect x="283" y="3" width="3" height="1" fill="#b0b0b0" shape-rendering="crispEdges"/>
<rect x="283" y="5" width="3" height="1" fill="#b0b0b0" shape-rendering="crispEdges"/>
<rect x="283" y="7" width="3" height="1" fill="#b0b0b0" shape-rendering="crispEdges"/>
<rect x="283" y="9" width="3" height="1" fill="#b0b0b0" shape-rendering="crispEdges"/>
<rect x="283" y="11" width="3" height="1" fill="#b0b0b0" shape-rendering="crispEdges"/>
<rect x="283" y="13" width="3" height="1" fill="#b0b0b0" shape-rendering="crispEdges"/>
<rect x="283" y="15" width="3" height="1" fill="#b0b0b0" shape-rendering="crispEdges"/>
<rect x="283" y="17" width="3" height="1" fill="#b0b0b0" shape-rendering="crispEdges"/>
<rect x="283" y="19" width="3" height="1" fill="#b0b0b0" shape-rendering="crispEdges"/>
<path d="M297.5 4 v13 M295 15.5 h14" stroke="#555" stroke-width="1" fill="none"/>
<polygon points="295.5,6 299.5,6 297.5,4" fill="#555"/>
<polygon points="309,13.5 309,17.5 311,15.5" fill="#555"/>
<path d="M303.5 7v6 M303.5 7h2 M301.5 13h2" stroke="#108010" stroke-width="1.2" fill="none"/>
<rect x="317" y="1" width="1" height="19" fill="#a0a0a0" shape-rendering="crispEdges"/>
<rect x="318" y="0" width="24" height="21" fill="#f7f7f7" shape-rendering="crispEdges"/>
<rect x="318" y="0" width="1" height="21" fill="#9a9a9a" shape-rendering="crispEdges"/>
<path d="M325.5 4 v13 M323 15.5 h14" stroke="#555" stroke-width="1" fill="none"/>
<polygon points="323.5,6 327.5,6 325.5,4" fill="#555"/>
<polygon points="337,13.5 337,17.5 339,15.5" fill="#555"/>
<rect x="329.5" y="4.5" width="4" height="7" fill="#30d030" stroke="#108010"/>
<path d="M331.5 2v2.5 M331.5 11.5v2.5" stroke="#108010" stroke-width="1"/>
<path d="M353.5 4 v13 M351 15.5 h14" stroke="#555" stroke-width="1" fill="none"/>
<polygon points="351.5,6 355.5,6 353.5,4" fill="#555"/>
<polygon points="365,13.5 365,17.5 367,15.5" fill="#555"/>
<path d="M352 12 q5 -9 11 -2" stroke="#20a020" stroke-width="1.2" fill="none"/>
<rect x="374" y="1" width="1" height="19" fill="#a0a0a0" shape-rendering="crispEdges"/>
<circle cx="389" cy="8" r="5.5" fill="#dbeaf8" stroke="#3a78c8" stroke-width="1.3"/>
<path d="M393 12l5 5" stroke="#c8a020" stroke-width="2.5"/>
<path d="M386 8h6" stroke="#3a78c8" stroke-width="1.6"/>
<path d="M389 5v6" stroke="#3a78c8" stroke-width="1.6"/>
<circle cx="417" cy="8" r="5.5" fill="#dbeaf8" stroke="#3a78c8" stroke-width="1.3"/>
<path d="M421 12l5 5" stroke="#c8a020" stroke-width="2.5"/>
<path d="M414 8h6" stroke="#3a78c8" stroke-width="1.6"/>
<rect x="439" y="2" width="8" height="8" fill="#3aa02a"/>
<rect x="440.5" y="5.5" width="5" height="2" fill="#fff"/>
<rect x="447" y="2" width="8" height="8" fill="#2a5ad0"/>
<rect x="448.5" y="5.5" width="5" height="2" fill="#fff"/>
<rect x="439" y="10" width="8" height="8" fill="#2a5ad0"/>
<rect x="440.5" y="13.5" width="5" height="2" fill="#fff"/>
<rect x="447" y="10" width="8" height="8" fill="#3aa02a"/>
<rect x="448.5" y="13.5" width="5" height="2" fill="#fff"/>
<rect x="464" y="1" width="1" height="19" fill="#a0a0a0" shape-rendering="crispEdges"/>
<rect x="469" y="0" width="25" height="21" fill="#f7f7f7" shape-rendering="crispEdges"/>
<rect x="469" y="0" width="1" height="21" fill="#9a9a9a" shape-rendering="crispEdges"/>
<path d="M477.5 4 v13 M475 15.5 h14" stroke="#555" stroke-width="1" fill="none"/>
<polygon points="475.5,6 479.5,6 477.5,4" fill="#555"/>
<polygon points="489,13.5 489,17.5 491,15.5" fill="#555"/>
<polygon points="482,6 482,12 486,9" fill="none" stroke="#20a020" stroke-width="1.2"/>
<rect x="497" y="1" width="1" height="19" fill="#a0a0a0" shape-rendering="crispEdges"/>
<rect x="498" y="0" width="24" height="21" fill="#f7f7f7" shape-rendering="crispEdges"/>
<rect x="498" y="0" width="1" height="21" fill="#9a9a9a" shape-rendering="crispEdges"/>
<path d="M505.5 4 v13 M503 15.5 h14" stroke="#555" stroke-width="1" fill="none"/>
<polygon points="503.5,6 507.5,6 505.5,4" fill="#555"/>
<polygon points="517,13.5 517,17.5 519,15.5" fill="#555"/>
<path d="M511.5 4v10" stroke="#2070c0" stroke-width="1"/>
<path d="M513 9h4 M513 9l2-2 M513 9l2 2" stroke="#e05010" stroke-width="1.2"/>
<rect x="526" y="1" width="1" height="19" fill="#a0a0a0" shape-rendering="crispEdges"/>
<path d="M536.5 2.5h8l3 3v11h-11z" fill="#f4f4f4" stroke="#707070" stroke-width="1"/>
<path d="M540 14h10 M545 9v10" stroke="#18b018" stroke-width="3.4"/>
<path d="M540 14h10 M545 9v10" stroke="#40e040" stroke-width="1.5"/>
<polygon points="557.5,9 563.5,9 560.5,12" fill="#000"/>
<circle cx="582" cy="10" r="7.2" fill="#1e6cd0"/>
<circle cx="582" cy="10" r="5" fill="#f4f8fc"/>
<path d="M582 6v4h3" stroke="#333" stroke-width="1" fill="none"/>
<polygon points="596.5,9 602.5,9 599.5,12" fill="#000"/>
<rect x="613.5" y="3.5" width="15" height="13" fill="#fff" stroke="#2a6ad0" stroke-width="1"/>
<rect x="614" y="4" width="14" height="2" fill="#5a9ae0"/>
<path d="M615 9l3-1 3 1 3-1 3 0" stroke="#b02020" fill="none" stroke-width="1"/>
<path d="M615 14l3-1 3 1 3-2 3 2" stroke="#20a020" fill="none" stroke-width="1"/>
<polygon points="635.5,9 641.5,9 638.5,12" fill="#000"/>
<rect x="647" y="1" width="1" height="19" fill="#a0a0a0" shape-rendering="crispEdges"/>
<rect x="651" y="1" width="3" height="1" fill="#b0b0b0" shape-rendering="crispEdges"/>
<rect x="651" y="3" width="3" height="1" fill="#b0b0b0" shape-rendering="crispEdges"/>
<rect x="651" y="5" width="3" height="1" fill="#b0b0b0" shape-rendering="crispEdges"/>
<rect x="651" y="7" width="3" height="1" fill="#b0b0b0" shape-rendering="crispEdges"/>
<rect x="651" y="9" width="3" height="1" fill="#b0b0b0" shape-rendering="crispEdges"/>
<rect x="651" y="11" width="3" height="1" fill="#b0b0b0" shape-rendering="crispEdges"/>
<rect x="651" y="13" width="3" height="1" fill="#b0b0b0" shape-rendering="crispEdges"/>
<rect x="651" y="15" width="3" height="1" fill="#b0b0b0" shape-rendering="crispEdges"/>
<rect x="651" y="17" width="3" height="1" fill="#b0b0b0" shape-rendering="crispEdges"/>
<rect x="651" y="19" width="3" height="1" fill="#b0b0b0" shape-rendering="crispEdges"/>
<rect x="657" y="1" width="1" height="19" fill="#a0a0a0" shape-rendering="crispEdges"/>
<rect x="658" y="0" width="24" height="21" fill="#f7f7f7" shape-rendering="crispEdges"/>
<rect x="658" y="0" width="1" height="21" fill="#9a9a9a" shape-rendering="crispEdges"/>
<polygon points="665,3 673,11 670,11 672,16 670,17 668,12 665,14" fill="#555"/>
<path d="M690 10.5h15 M697.5 3v15" stroke="#555" stroke-width="1"/>
<rect x="714" y="1" width="1" height="19" fill="#a0a0a0" shape-rendering="crispEdges"/>
<path d="M731.5 4v13" stroke="#555" stroke-width="1.2"/>
<path d="M754 10.5h12" stroke="#555" stroke-width="1.2"/>
<path d="M782 17l12-12" stroke="#555" stroke-width="1.1"/>
<path d="M808 15l9-9 M811 17l10-10 M810 10l1 3 M813 9l1 3 M816 8l1 3" stroke="#555" stroke-width="1.1" fill="none"/>
<text x="819" y="19" font-family='"Liberation Sans","Noto Sans CJK SC",sans-serif' font-size="6.5" fill="#444" text-anchor="start" font-weight="bold" >E</text>
<path d="M837 3.5h13" stroke="#555" stroke-width="1" stroke-dasharray="1,1"/>
<path d="M837 6.5h13" stroke="#555" stroke-width="1" stroke-dasharray="1,1"/>
<path d="M837 10.5h13" stroke="#555" stroke-width="1" stroke-dasharray="1,1"/>
<path d="M837 14.5h13" stroke="#555" stroke-width="1" stroke-dasharray="1,1"/>
<text x="846" y="19" font-family='"Liberation Sans","Noto Sans CJK SC",sans-serif' font-size="6.5" fill="#444" text-anchor="start" font-weight="bold" >F</text>
<text x="868" y="15" font-family='"Liberation Sans","Noto Sans CJK SC",sans-serif' font-size="11" fill="#555" text-anchor="start" font-weight="bold" >A</text>
<rect x="893.5" y="4.5" width="12" height="12" fill="none" stroke="#555" stroke-dasharray="1,1"/>
<text x="895.5" y="15" font-family='"Liberation Sans","Noto Sans CJK SC",sans-serif' font-size="11" fill="#555" text-anchor="start" font-weight="bold" >T</text>
<polygon points="921,8 924,5 927,8 924,11" fill="#555"/><path d="M924 10l3 3 5-6" stroke="#555" stroke-width="1.3" fill="none"/><polygon points="929,14 932,11 935,14 932,17" fill="#555"/>
<polygon points="941.5,9 947.5,9 944.5,12" fill="#000"/>
<rect x="953" y="0" width="1" height="22" fill="#808080"/>
<rect x="957" y="1" width="3" height="1" fill="#b0b0b0" shape-rendering="crispEdges"/>
<rect x="957" y="3" width="3" height="1" fill="#b0b0b0" shape-rendering="crispEdges"/>
<rect x="957" y="5" width="3" height="1" fill="#b0b0b0" shape-rendering="crispEdges"/>
<rect x="957" y="7" width="3" height="1" fill="#b0b0b0" shape-rendering="crispEdges"/>
<rect x="957" y="9" width="3" height="1" fill="#b0b0b0" shape-rendering="crispEdges"/>
<rect x="957" y="11" width="3" height="1" fill="#b0b0b0" shape-rendering="crispEdges"/>
<rect x="957" y="13" width="3" height="1" fill="#b0b0b0" shape-rendering="crispEdges"/>
<rect x="957" y="15" width="3" height="1" fill="#b0b0b0" shape-rendering="crispEdges"/>
<rect x="957" y="17" width="3" height="1" fill="#b0b0b0" shape-rendering="crispEdges"/>
<rect x="957" y="19" width="3" height="1" fill="#b0b0b0" shape-rendering="crispEdges"/>
<rect x="1131" y="0" width="25" height="21" fill="#f7f7f7" shape-rendering="crispEdges"/>
<rect x="1131" y="0" width="1" height="21" fill="#9a9a9a" shape-rendering="crispEdges"/>
<text x="968.5" y="14.2" font-family='"Liberation Sans","Noto Sans CJK SC",sans-serif' font-size="10" fill="#404040" text-anchor="start" font-weight="normal" >M1</text>
<text x="996.5" y="14.2" font-family='"Liberation Sans","Noto Sans CJK SC",sans-serif' font-size="10" fill="#404040" text-anchor="start" font-weight="normal" >M5</text>
<text x="1022.8" y="14.2" font-family='"Liberation Sans","Noto Sans CJK SC",sans-serif' font-size="10" fill="#404040" text-anchor="start" font-weight="normal" >M15</text>
<text x="1050.3" y="14.2" font-family='"Liberation Sans","Noto Sans CJK SC",sans-serif' font-size="10" fill="#404040" text-anchor="start" font-weight="normal" >M30</text>
<text x="1081.5" y="14.2" font-family='"Liberation Sans","Noto Sans CJK SC",sans-serif' font-size="10" fill="#404040" text-anchor="start" font-weight="normal" >H1</text>
<text x="1108.6" y="14.2" font-family='"Liberation Sans","Noto Sans CJK SC",sans-serif' font-size="10" fill="#404040" text-anchor="start" font-weight="normal" >H4</text>
<text x="1137.8" y="14.2" font-family='"Liberation Sans","Noto Sans CJK SC",sans-serif' font-size="10" fill="#404040" text-anchor="start" font-weight="normal" >D1</text>
<text x="1164.8" y="14.2" font-family='"Liberation Sans","Noto Sans CJK SC",sans-serif' font-size="10" fill="#404040" text-anchor="start" font-weight="normal" >W1</text>
<text x="1191.4" y="14.2" font-family='"Liberation Sans","Noto Sans CJK SC",sans-serif' font-size="10" fill="#404040" text-anchor="start" font-weight="normal" >MN</text>
<rect x="1214" y="1" width="1" height="19" fill="#a0a0a0" shape-rendering="crispEdges"/>
<circle cx="1684.5" cy="7.3" r="3.7" fill="#f4f4ff" stroke="#2a60c8" stroke-width="1.5"/><path d="M1681.8 10.2l-3.8 4.2" stroke="#2050c0" stroke-width="2.3" stroke-linecap="round"/>
<path d="M1719 10.5l1.5 3l-3.5-2.5z" fill="#666"/>
<ellipse cx="1717" cy="7" rx="6.6" ry="4.6" fill="#f6f6f8" stroke="#8a8a8a" stroke-width="1"/>
<path d="M1705.5 14l-0.5 2.5l3-2z" fill="#666"/>
<ellipse cx="1708.4" cy="11" rx="5.2" ry="4.1" fill="#f6f6f8" stroke="#8a8a8a" stroke-width="1"/>
<rect x="1728" y="24" width="1" height="924" fill="#dcdcdc"/>
</svg>
</body></html>
